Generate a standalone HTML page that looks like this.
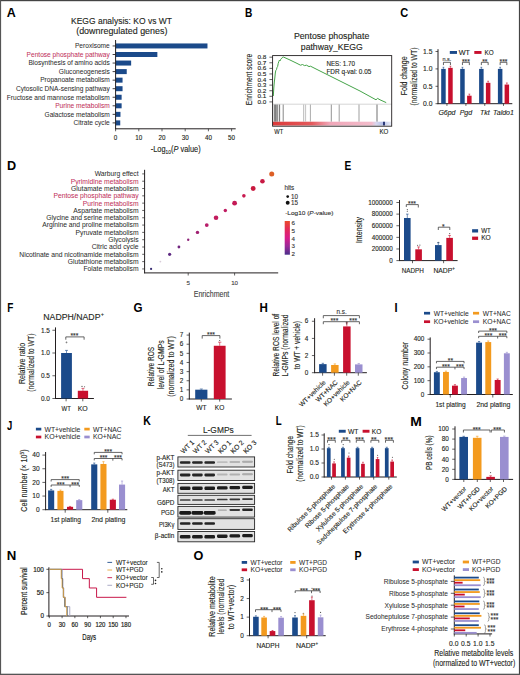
<!DOCTYPE html>
<html><head><meta charset="utf-8"><style>
html,body{margin:0;padding:0;background:#fff;}
svg{display:block;}
text{font-family:"Liberation Sans",sans-serif;}
</style></head><body>
<svg width="520" height="675" viewBox="0 0 520 675">
<rect x="0" y="0" width="520" height="675" fill="#fff"/>
<rect x="0.00" y="0.00" width="520.00" height="1.20" fill="#444"/>
<rect x="0.00" y="0.00" width="1.10" height="675.00" fill="#555"/>
<rect x="518.90" y="0.00" width="1.10" height="675.00" fill="#444"/>
<rect x="0.00" y="673.70" width="520.00" height="1.30" fill="#555"/>
<text x="6.85" y="16.6" font-size="12.2" font-weight="bold" fill="#000" textLength="9.03" lengthAdjust="spacingAndGlyphs">A</text>
<text x="121.5" y="24.3" font-size="8.8" text-anchor="middle" fill="#231f20" stroke="#231f20" stroke-width="0.12" textLength="100.9" lengthAdjust="spacingAndGlyphs">KEGG analysis: KO vs WT</text>
<text x="121.8" y="34.2" font-size="8.8" text-anchor="middle" fill="#231f20" stroke="#231f20" stroke-width="0.12" textLength="91.2" lengthAdjust="spacingAndGlyphs">(downregulated genes)</text>
<rect x="115.60" y="43.45" width="91.87" height="5.00" fill="#1b4a8a"/>
<line x1="112.6" y1="45.95" x2="115.6" y2="45.95" stroke="#231f20" stroke-width="0.85"/>
<text x="109.8" y="48.25" font-size="6.6" text-anchor="end" fill="#2e2e2e" stroke="#2e2e2e" stroke-width="0.04">Peroxisome</text>
<rect x="115.60" y="52.00" width="41.76" height="5.00" fill="#1b4a8a"/>
<line x1="112.6" y1="54.5" x2="115.6" y2="54.5" stroke="#231f20" stroke-width="0.85"/>
<text x="109.8" y="56.8" font-size="6.6" text-anchor="end" fill="#c2325c" stroke="#c2325c" stroke-width="0.04">Pentose phosphate pathway</text>
<rect x="115.60" y="60.55" width="15.54" height="5.00" fill="#1b4a8a"/>
<line x1="112.6" y1="63.050000000000004" x2="115.6" y2="63.050000000000004" stroke="#231f20" stroke-width="0.85"/>
<text x="109.8" y="65.35000000000001" font-size="6.6" text-anchor="end" fill="#2e2e2e" stroke="#2e2e2e" stroke-width="0.04">Biosynthesis of amino acids</text>
<rect x="115.60" y="69.10" width="11.14" height="5.00" fill="#1b4a8a"/>
<line x1="112.6" y1="71.60000000000001" x2="115.6" y2="71.60000000000001" stroke="#231f20" stroke-width="0.85"/>
<text x="109.8" y="73.9" font-size="6.6" text-anchor="end" fill="#2e2e2e" stroke="#2e2e2e" stroke-width="0.04">Gluconeogenesis</text>
<rect x="115.60" y="77.65" width="6.96" height="5.00" fill="#1b4a8a"/>
<line x1="112.6" y1="80.15" x2="115.6" y2="80.15" stroke="#231f20" stroke-width="0.85"/>
<text x="109.8" y="82.45" font-size="6.6" text-anchor="end" fill="#2e2e2e" stroke="#2e2e2e" stroke-width="0.04">Propanoate metabolism</text>
<rect x="115.60" y="86.20" width="6.96" height="5.00" fill="#1b4a8a"/>
<line x1="112.6" y1="88.7" x2="115.6" y2="88.7" stroke="#231f20" stroke-width="0.85"/>
<text x="109.8" y="91.0" font-size="6.6" text-anchor="end" fill="#2e2e2e" stroke="#2e2e2e" stroke-width="0.04">Cytosolic DNA-sensing pathway</text>
<rect x="115.60" y="94.75" width="6.03" height="5.00" fill="#1b4a8a"/>
<line x1="112.6" y1="97.25" x2="115.6" y2="97.25" stroke="#231f20" stroke-width="0.85"/>
<text x="109.8" y="99.55" font-size="6.6" text-anchor="end" fill="#2e2e2e" stroke="#2e2e2e" stroke-width="0.04">Fructose and mannose metabolism</text>
<rect x="115.60" y="103.30" width="6.03" height="5.00" fill="#1b4a8a"/>
<line x1="112.6" y1="105.80000000000001" x2="115.6" y2="105.80000000000001" stroke="#231f20" stroke-width="0.85"/>
<text x="109.8" y="108.10000000000001" font-size="6.6" text-anchor="end" fill="#c2325c" stroke="#c2325c" stroke-width="0.04">Purine metabolism</text>
<rect x="115.60" y="111.85" width="4.87" height="5.00" fill="#1b4a8a"/>
<line x1="112.6" y1="114.35000000000001" x2="115.6" y2="114.35000000000001" stroke="#231f20" stroke-width="0.85"/>
<text x="109.8" y="116.65" font-size="6.6" text-anchor="end" fill="#2e2e2e" stroke="#2e2e2e" stroke-width="0.04">Galactose metabolism</text>
<rect x="115.60" y="120.40" width="4.64" height="5.00" fill="#1b4a8a"/>
<line x1="112.6" y1="122.9" x2="115.6" y2="122.9" stroke="#231f20" stroke-width="0.85"/>
<text x="109.8" y="125.2" font-size="6.6" text-anchor="end" fill="#2e2e2e" stroke="#2e2e2e" stroke-width="0.04">Citrate cycle</text>
<line x1="115.6" y1="40.0" x2="115.6" y2="129.2" stroke="#231f20" stroke-width="1.0"/>
<line x1="115.14999999999999" y1="128.8" x2="235.7" y2="128.8" stroke="#231f20" stroke-width="1.0"/>
<line x1="115.6" y1="128.8" x2="115.6" y2="131.3" stroke="#231f20" stroke-width="0.7"/>
<text x="115.6" y="139.8" font-size="6.3" text-anchor="middle" fill="#231f20" stroke="#231f20" stroke-width="0.12">0</text>
<line x1="138.79999999999998" y1="128.8" x2="138.79999999999998" y2="131.3" stroke="#231f20" stroke-width="0.7"/>
<text x="138.79999999999998" y="139.8" font-size="6.3" text-anchor="middle" fill="#231f20" stroke="#231f20" stroke-width="0.12">10</text>
<line x1="162.0" y1="128.8" x2="162.0" y2="131.3" stroke="#231f20" stroke-width="0.7"/>
<text x="162.0" y="139.8" font-size="6.3" text-anchor="middle" fill="#231f20" stroke="#231f20" stroke-width="0.12">20</text>
<line x1="185.2" y1="128.8" x2="185.2" y2="131.3" stroke="#231f20" stroke-width="0.7"/>
<text x="185.2" y="139.8" font-size="6.3" text-anchor="middle" fill="#231f20" stroke="#231f20" stroke-width="0.12">30</text>
<line x1="208.39999999999998" y1="128.8" x2="208.39999999999998" y2="131.3" stroke="#231f20" stroke-width="0.7"/>
<text x="208.39999999999998" y="139.8" font-size="6.3" text-anchor="middle" fill="#231f20" stroke="#231f20" stroke-width="0.12">40</text>
<line x1="231.6" y1="128.8" x2="231.6" y2="131.3" stroke="#231f20" stroke-width="0.7"/>
<text x="231.6" y="139.8" font-size="6.3" text-anchor="middle" fill="#231f20" stroke="#231f20" stroke-width="0.12">50</text>
<text x="175.7" y="152.0" font-size="8.6" text-anchor="middle" fill="#231f20" stroke="#231f20" stroke-width="0.12" textLength="49.9" lengthAdjust="spacingAndGlyphs">-Log<tspan font-size="5.6" dy="1.6">10</tspan><tspan dy="-1.6">(</tspan><tspan font-style="italic">P</tspan> value)</text>
<text x="244.98" y="16.8" font-size="12.2" font-weight="bold" fill="#000" textLength="7.33" lengthAdjust="spacingAndGlyphs">B</text>
<text x="331.6" y="39.2" font-size="8.5" text-anchor="middle" fill="#231f20" stroke="#231f20" stroke-width="0.12" textLength="75.4" lengthAdjust="spacingAndGlyphs">Pentose phosphate</text>
<text x="331.8" y="49.8" font-size="8.5" text-anchor="middle" fill="#231f20" stroke="#231f20" stroke-width="0.12" textLength="61.9" lengthAdjust="spacingAndGlyphs">pathway_KEGG</text>
<line x1="269.4" y1="101.9" x2="272.6" y2="101.9" stroke="#231f20" stroke-width="0.7"/>
<text x="266.3" y="103.9" font-size="5.9" text-anchor="end" fill="#231f20" stroke="#231f20" stroke-width="0.12" textLength="8.9" lengthAdjust="spacingAndGlyphs">0.0</text>
<line x1="269.4" y1="96.31" x2="272.6" y2="96.31" stroke="#231f20" stroke-width="0.7"/>
<text x="266.3" y="98.31" font-size="5.9" text-anchor="end" fill="#231f20" stroke="#231f20" stroke-width="0.12" textLength="8.9" lengthAdjust="spacingAndGlyphs">0.1</text>
<line x1="269.4" y1="90.72" x2="272.6" y2="90.72" stroke="#231f20" stroke-width="0.7"/>
<text x="266.3" y="92.72" font-size="5.9" text-anchor="end" fill="#231f20" stroke="#231f20" stroke-width="0.12" textLength="8.9" lengthAdjust="spacingAndGlyphs">0.2</text>
<line x1="269.4" y1="85.13000000000001" x2="272.6" y2="85.13000000000001" stroke="#231f20" stroke-width="0.7"/>
<text x="266.3" y="87.13000000000001" font-size="5.9" text-anchor="end" fill="#231f20" stroke="#231f20" stroke-width="0.12" textLength="8.9" lengthAdjust="spacingAndGlyphs">0.3</text>
<line x1="269.4" y1="79.54" x2="272.6" y2="79.54" stroke="#231f20" stroke-width="0.7"/>
<text x="266.3" y="81.54" font-size="5.9" text-anchor="end" fill="#231f20" stroke="#231f20" stroke-width="0.12" textLength="8.9" lengthAdjust="spacingAndGlyphs">0.4</text>
<line x1="269.4" y1="73.95" x2="272.6" y2="73.95" stroke="#231f20" stroke-width="0.7"/>
<text x="266.3" y="75.95" font-size="5.9" text-anchor="end" fill="#231f20" stroke="#231f20" stroke-width="0.12" textLength="8.9" lengthAdjust="spacingAndGlyphs">0.5</text>
<line x1="269.4" y1="68.36000000000001" x2="272.6" y2="68.36000000000001" stroke="#231f20" stroke-width="0.7"/>
<text x="266.3" y="70.36000000000001" font-size="5.9" text-anchor="end" fill="#231f20" stroke="#231f20" stroke-width="0.12" textLength="8.9" lengthAdjust="spacingAndGlyphs">0.6</text>
<line x1="269.4" y1="62.77" x2="272.6" y2="62.77" stroke="#231f20" stroke-width="0.7"/>
<text x="266.3" y="64.77000000000001" font-size="5.9" text-anchor="end" fill="#231f20" stroke="#231f20" stroke-width="0.12" textLength="8.9" lengthAdjust="spacingAndGlyphs">0.7</text>
<line x1="269.4" y1="57.18000000000001" x2="272.6" y2="57.18000000000001" stroke="#231f20" stroke-width="0.7"/>
<text x="266.3" y="59.18000000000001" font-size="5.9" text-anchor="end" fill="#231f20" stroke="#231f20" stroke-width="0.12" textLength="8.9" lengthAdjust="spacingAndGlyphs">0.8</text>
<text transform="translate(251.9,79.5) rotate(-90)" x="0" y="0" font-size="9.0" text-anchor="middle" fill="#231f20" stroke="#231f20" stroke-width="0.12" textLength="51.5" lengthAdjust="spacingAndGlyphs">Enrichment score</text>
<line x1="272.6" y1="104.2" x2="391.7" y2="104.2" stroke="#bbbbbb" stroke-width="0.6"/>
<defs><linearGradient id="gb" x1="0" x2="1" y1="0" y2="0"><stop offset="0" stop-color="#dc3a3a"/><stop offset="0.33" stop-color="#e45a5c"/><stop offset="0.48" stop-color="#f0a6b8"/><stop offset="0.83" stop-color="#f3bccb"/><stop offset="0.87" stop-color="#d8d8ef"/><stop offset="0.925" stop-color="#b2bfe6"/><stop offset="0.927" stop-color="#2b3a78"/><stop offset="0.943" stop-color="#2b3a78"/><stop offset="0.946" stop-color="#c8d0ec"/><stop offset="1" stop-color="#eceff8"/></linearGradient></defs>
<rect x="272.60" y="121.70" width="119.10" height="3.80" fill="url(#gb)"/>
<line x1="274.3" y1="104.6" x2="274.3" y2="121.6" stroke="#333" stroke-width="0.7"/>
<line x1="275.4" y1="104.6" x2="275.4" y2="121.6" stroke="#555" stroke-width="0.7"/>
<line x1="276.2" y1="104.6" x2="276.2" y2="121.6" stroke="#333" stroke-width="0.7"/>
<line x1="277.7" y1="104.6" x2="277.7" y2="121.6" stroke="#444" stroke-width="0.7"/>
<line x1="279.6" y1="104.6" x2="279.6" y2="121.6" stroke="#333" stroke-width="0.7"/>
<line x1="283.2" y1="104.6" x2="283.2" y2="121.6" stroke="#555" stroke-width="0.7"/>
<line x1="303.7" y1="104.6" x2="303.7" y2="121.6" stroke="#999" stroke-width="0.7"/>
<line x1="305.6" y1="104.6" x2="305.6" y2="121.6" stroke="#aaa" stroke-width="0.7"/>
<line x1="310.4" y1="104.6" x2="310.4" y2="121.6" stroke="#888" stroke-width="0.7"/>
<line x1="331.3" y1="104.6" x2="331.3" y2="121.6" stroke="#666" stroke-width="0.7"/>
<line x1="339.2" y1="104.6" x2="339.2" y2="121.6" stroke="#777" stroke-width="0.7"/>
<line x1="359.0" y1="104.6" x2="359.0" y2="121.6" stroke="#777" stroke-width="0.7"/>
<line x1="377.0" y1="104.6" x2="377.0" y2="121.6" stroke="#333" stroke-width="0.7"/>
<path d="M273.3,96.0 L273.8,88 L274.3,82 L274.8,78 L275.3,73 L275.8,70.5 L276.5,69.5 L277.0,67.5 L277.6,66.5 L278.2,63.5 L278.8,61.5 L279.4,60.2 L280.0,61.0 L280.6,59.5 L281.3,58.6 L282.0,58.2 L282.6,57.2 L283.4,57.0 L290,60.0 L297,63.4 L300.5,65.2 L302.5,64.5 L304.5,65.6 L306.5,65.2 L309.0,66.6 L310.5,66.2 L320,71.0 L340,81.0 L360,91.0 L376.0,99.8 L377.6,98.4 L380,99.8 L386.2,102.6" stroke="#3a9e3e" stroke-width="0.95" fill="none" stroke-linejoin="round"/>
<rect x="272.6" y="55.6" width="119.09999999999997" height="70.6" fill="none" stroke="#231f20" stroke-width="0.9"/>
<text x="326.4" y="66.0" font-size="6.6" fill="#231f20" stroke="#231f20" stroke-width="0.12" textLength="28.6" lengthAdjust="spacingAndGlyphs">NES: 1.70</text>
<text x="326.4" y="73.9" font-size="6.6" fill="#231f20" stroke="#231f20" stroke-width="0.12" textLength="45.0" lengthAdjust="spacingAndGlyphs">FDR q-val: 0.05</text>
<text x="274.3" y="134.0" font-size="6.6" fill="#231f20" stroke="#231f20" stroke-width="0.12" textLength="8.9" lengthAdjust="spacingAndGlyphs">WT</text>
<text x="379.4" y="134.0" font-size="6.6" fill="#231f20" stroke="#231f20" stroke-width="0.12" textLength="8.9" lengthAdjust="spacingAndGlyphs">KO</text>
<text x="400.2" y="16.5" font-size="12.2" font-weight="bold" fill="#000" textLength="7.95" lengthAdjust="spacingAndGlyphs">C</text>
<line x1="438.0" y1="49.2" x2="438.0" y2="104.10000000000001" stroke="#231f20" stroke-width="1.0"/>
<line x1="437.55" y1="103.7" x2="512.3" y2="103.7" stroke="#231f20" stroke-width="1.0"/>
<line x1="435.5" y1="51.50000000000001" x2="438.0" y2="51.50000000000001" stroke="#231f20" stroke-width="0.7"/>
<text x="432.4" y="53.800000000000004" font-size="6.6" text-anchor="end" fill="#231f20" stroke="#231f20" stroke-width="0.12" textLength="9.4" lengthAdjust="spacingAndGlyphs">1.5</text>
<line x1="435.5" y1="68.9" x2="438.0" y2="68.9" stroke="#231f20" stroke-width="0.7"/>
<text x="432.4" y="71.2" font-size="6.6" text-anchor="end" fill="#231f20" stroke="#231f20" stroke-width="0.12" textLength="9.4" lengthAdjust="spacingAndGlyphs">1.0</text>
<line x1="435.5" y1="86.30000000000001" x2="438.0" y2="86.30000000000001" stroke="#231f20" stroke-width="0.7"/>
<text x="432.4" y="88.60000000000001" font-size="6.6" text-anchor="end" fill="#231f20" stroke="#231f20" stroke-width="0.12" textLength="9.4" lengthAdjust="spacingAndGlyphs">0.5</text>
<line x1="435.5" y1="103.7" x2="438.0" y2="103.7" stroke="#231f20" stroke-width="0.7"/>
<text x="432.4" y="106.0" font-size="6.6" text-anchor="end" fill="#231f20" stroke="#231f20" stroke-width="0.12" textLength="9.4" lengthAdjust="spacingAndGlyphs">0.0</text>
<text transform="translate(407.4,75.8) rotate(-90)" x="0" y="0" font-size="8.2" text-anchor="middle" fill="#231f20" stroke="#231f20" stroke-width="0.12" textLength="39.0" lengthAdjust="spacingAndGlyphs">Fold change</text>
<text transform="translate(417.0,76.5) rotate(-90)" x="0" y="0" font-size="8.2" text-anchor="middle" fill="#231f20" stroke="#231f20" stroke-width="0.12" textLength="57.8" lengthAdjust="spacingAndGlyphs">(normalized to WT)</text>
<rect x="441.20" y="68.90" width="4.50" height="34.80" fill="#1b4a8a"/>
<line x1="443.45" y1="68.9" x2="443.45" y2="67.30000000000001" stroke="#1b4a8a" stroke-width="0.6"/>
<line x1="442.55" y1="67.30000000000001" x2="444.34999999999997" y2="67.30000000000001" stroke="#1b4a8a" stroke-width="0.6"/>
<rect x="448.20" y="67.86" width="4.50" height="35.84" fill="#c8102e"/>
<line x1="450.45" y1="67.856" x2="450.45" y2="66.256" stroke="#c8102e" stroke-width="0.6"/>
<line x1="449.55" y1="66.256" x2="451.34999999999997" y2="66.256" stroke="#c8102e" stroke-width="0.6"/>
<line x1="446.95" y1="103.7" x2="446.95" y2="105.9" stroke="#231f20" stroke-width="0.7"/>
<path d="M443.45,65.1 L443.45,62.3 L450.45,62.3 L450.45,65.1" stroke="#333" stroke-width="0.75" fill="none"/>
<text x="446.95" y="61.0" font-size="5.5" text-anchor="middle" fill="#333" stroke="#333" stroke-width="0.12">n.s.</text>
<text x="446.95" y="115.2" font-size="7.0" text-anchor="middle" font-style="italic" fill="#231f20" stroke="#231f20" stroke-width="0.12">G6pd</text>
<rect x="460.20" y="68.90" width="4.50" height="34.80" fill="#1b4a8a"/>
<line x1="462.45" y1="68.9" x2="462.45" y2="67.30000000000001" stroke="#1b4a8a" stroke-width="0.6"/>
<line x1="461.55" y1="67.30000000000001" x2="463.34999999999997" y2="67.30000000000001" stroke="#1b4a8a" stroke-width="0.6"/>
<rect x="467.10" y="95.70" width="4.50" height="8.00" fill="#c8102e"/>
<line x1="469.35" y1="95.696" x2="469.35" y2="94.096" stroke="#c8102e" stroke-width="0.6"/>
<line x1="468.45000000000005" y1="94.096" x2="470.25" y2="94.096" stroke="#c8102e" stroke-width="0.6"/>
<line x1="465.9" y1="103.7" x2="465.9" y2="105.9" stroke="#231f20" stroke-width="0.7"/>
<path d="M462.45,65.1 L462.45,62.3 L469.35,62.3 L469.35,65.1" stroke="#333" stroke-width="0.75" fill="none"/>
<text x="465.9" y="64.1792" font-size="6.6" text-anchor="middle" fill="#333" stroke="#333" stroke-width="0.12" textLength="7.8" lengthAdjust="spacingAndGlyphs">***</text>
<text x="465.9" y="115.2" font-size="7.0" text-anchor="middle" font-style="italic" fill="#231f20" stroke="#231f20" stroke-width="0.12">Pgd</text>
<rect x="479.10" y="68.90" width="4.50" height="34.80" fill="#1b4a8a"/>
<line x1="481.35" y1="68.9" x2="481.35" y2="67.30000000000001" stroke="#1b4a8a" stroke-width="0.6"/>
<line x1="480.45000000000005" y1="67.30000000000001" x2="482.25" y2="67.30000000000001" stroke="#1b4a8a" stroke-width="0.6"/>
<rect x="485.90" y="82.82" width="4.50" height="20.88" fill="#c8102e"/>
<line x1="488.15" y1="82.82000000000001" x2="488.15" y2="81.22000000000001" stroke="#c8102e" stroke-width="0.6"/>
<line x1="487.25" y1="81.22000000000001" x2="489.04999999999995" y2="81.22000000000001" stroke="#c8102e" stroke-width="0.6"/>
<line x1="484.75" y1="103.7" x2="484.75" y2="105.9" stroke="#231f20" stroke-width="0.7"/>
<path d="M481.35,65.1 L481.35,62.3 L488.15,62.3 L488.15,65.1" stroke="#333" stroke-width="0.75" fill="none"/>
<text x="484.75" y="64.1792" font-size="6.6" text-anchor="middle" fill="#333" stroke="#333" stroke-width="0.12" textLength="5.2" lengthAdjust="spacingAndGlyphs">**</text>
<text x="484.75" y="115.2" font-size="7.0" text-anchor="middle" font-style="italic" fill="#231f20" stroke="#231f20" stroke-width="0.12">Tkt</text>
<rect x="497.90" y="68.90" width="4.50" height="34.80" fill="#1b4a8a"/>
<line x1="500.15" y1="68.9" x2="500.15" y2="67.30000000000001" stroke="#1b4a8a" stroke-width="0.6"/>
<line x1="499.25" y1="67.30000000000001" x2="501.04999999999995" y2="67.30000000000001" stroke="#1b4a8a" stroke-width="0.6"/>
<rect x="504.60" y="84.56" width="4.50" height="19.14" fill="#c8102e"/>
<line x1="506.85" y1="84.56" x2="506.85" y2="82.96000000000001" stroke="#c8102e" stroke-width="0.6"/>
<line x1="505.95000000000005" y1="82.96000000000001" x2="507.75" y2="82.96000000000001" stroke="#c8102e" stroke-width="0.6"/>
<line x1="503.5" y1="103.7" x2="503.5" y2="105.9" stroke="#231f20" stroke-width="0.7"/>
<path d="M500.15,65.1 L500.15,62.3 L506.85,62.3 L506.85,65.1" stroke="#333" stroke-width="0.75" fill="none"/>
<text x="503.5" y="64.1792" font-size="6.6" text-anchor="middle" fill="#333" stroke="#333" stroke-width="0.12" textLength="7.8" lengthAdjust="spacingAndGlyphs">***</text>
<text x="503.5" y="115.2" font-size="7.0" text-anchor="middle" font-style="italic" fill="#231f20" stroke="#231f20" stroke-width="0.12">Taldo1</text>
<rect x="449.80" y="51.00" width="7.20" height="2.90" fill="#1b4a8a"/>
<text x="458.7" y="55.0" font-size="7.4" fill="#231f20" stroke="#231f20" stroke-width="0.12" textLength="11.3" lengthAdjust="spacingAndGlyphs">WT</text>
<rect x="474.30" y="51.00" width="7.20" height="2.90" fill="#c8102e"/>
<text x="484.4" y="55.0" font-size="7.4" fill="#231f20" stroke="#231f20" stroke-width="0.12" textLength="9.2" lengthAdjust="spacingAndGlyphs">KO</text>
<text x="6.91" y="169.6" font-size="12.2" font-weight="bold" fill="#000" textLength="9.16" lengthAdjust="spacingAndGlyphs">D</text>
<text x="138.6" y="176.3" font-size="6.75" text-anchor="end" fill="#2e2e2e" stroke="#2e2e2e" stroke-width="0.04">Warburg effect</text>
<line x1="142.2" y1="173.9" x2="144.6" y2="173.9" stroke="#231f20" stroke-width="0.7"/>
<circle cx="271.72" cy="173.90" r="2.5" fill="#dd5f26"/>
<text x="138.6" y="183.61" font-size="6.75" text-anchor="end" fill="#c2325c" stroke="#c2325c" stroke-width="0.04">Pyrimidine metabolism</text>
<line x1="142.2" y1="181.21" x2="144.6" y2="181.21" stroke="#231f20" stroke-width="0.7"/>
<circle cx="262.44" cy="181.21" r="2.3" fill="#c81a44"/>
<text x="138.6" y="190.92000000000002" font-size="6.75" text-anchor="end" fill="#2e2e2e" stroke="#2e2e2e" stroke-width="0.04">Glutamate metabolism</text>
<line x1="142.2" y1="188.52" x2="144.6" y2="188.52" stroke="#231f20" stroke-width="0.7"/>
<circle cx="253.16" cy="188.52" r="2.4" fill="#c8183e"/>
<text x="138.6" y="198.23000000000002" font-size="6.75" text-anchor="end" fill="#c2325c" stroke="#c2325c" stroke-width="0.04">Pentose phosphate pathway</text>
<line x1="142.2" y1="195.83" x2="144.6" y2="195.83" stroke="#231f20" stroke-width="0.7"/>
<circle cx="243.88" cy="195.83" r="1.8" fill="#c81a50"/>
<text x="138.6" y="205.54000000000002" font-size="6.75" text-anchor="end" fill="#c2325c" stroke="#c2325c" stroke-width="0.04">Purine metabolism</text>
<line x1="142.2" y1="203.14000000000001" x2="144.6" y2="203.14000000000001" stroke="#231f20" stroke-width="0.7"/>
<circle cx="234.60" cy="203.14" r="2.4" fill="#c41a56"/>
<text x="138.6" y="212.85" font-size="6.75" text-anchor="end" fill="#2e2e2e" stroke="#2e2e2e" stroke-width="0.04">Aspartate metabolism</text>
<line x1="142.2" y1="210.45" x2="144.6" y2="210.45" stroke="#231f20" stroke-width="0.7"/>
<circle cx="225.32" cy="210.45" r="1.7" fill="#c01c62"/>
<text x="138.6" y="220.16" font-size="6.75" text-anchor="end" fill="#2e2e2e" stroke="#2e2e2e" stroke-width="0.04">Glycine and serine metabolism</text>
<line x1="142.2" y1="217.76" x2="144.6" y2="217.76" stroke="#231f20" stroke-width="0.7"/>
<circle cx="216.04" cy="217.76" r="2.3" fill="#c21c5e"/>
<text x="138.6" y="227.47" font-size="6.75" text-anchor="end" fill="#2e2e2e" stroke="#2e2e2e" stroke-width="0.04">Arginine and proline metabolism</text>
<line x1="142.2" y1="225.07" x2="144.6" y2="225.07" stroke="#231f20" stroke-width="0.7"/>
<circle cx="206.76" cy="225.07" r="1.9" fill="#b81e6a"/>
<text x="138.6" y="234.78" font-size="6.75" text-anchor="end" fill="#2e2e2e" stroke="#2e2e2e" stroke-width="0.04">Pyruvate metabolism</text>
<line x1="142.2" y1="232.38" x2="144.6" y2="232.38" stroke="#231f20" stroke-width="0.7"/>
<circle cx="197.48" cy="232.38" r="1.7" fill="#a02072"/>
<text x="138.6" y="242.09" font-size="6.75" text-anchor="end" fill="#2e2e2e" stroke="#2e2e2e" stroke-width="0.04">Glycolysis</text>
<line x1="142.2" y1="239.69" x2="144.6" y2="239.69" stroke="#231f20" stroke-width="0.7"/>
<circle cx="188.20" cy="239.69" r="1.2" fill="#8e2478"/>
<text x="138.6" y="249.4" font-size="6.75" text-anchor="end" fill="#2e2e2e" stroke="#2e2e2e" stroke-width="0.04">Citric acid cycle</text>
<line x1="142.2" y1="247.0" x2="144.6" y2="247.0" stroke="#231f20" stroke-width="0.7"/>
<circle cx="178.92" cy="247.00" r="1.4" fill="#722680"/>
<text x="138.6" y="256.71" font-size="6.75" text-anchor="end" fill="#2e2e2e" stroke="#2e2e2e" stroke-width="0.04">Nicotinate and nicotinamide metabolism</text>
<line x1="142.2" y1="254.31" x2="144.6" y2="254.31" stroke="#231f20" stroke-width="0.7"/>
<circle cx="169.64" cy="254.31" r="1.6" fill="#5e2a82"/>
<text x="138.6" y="264.02" font-size="6.75" text-anchor="end" fill="#2e2e2e" stroke="#2e2e2e" stroke-width="0.04">Glutathione metabolism</text>
<line x1="142.2" y1="261.62" x2="144.6" y2="261.62" stroke="#231f20" stroke-width="0.7"/>
<circle cx="160.36" cy="261.62" r="0.9" fill="#d8ccd8"/>
<text x="138.6" y="271.33" font-size="6.75" text-anchor="end" fill="#2e2e2e" stroke="#2e2e2e" stroke-width="0.04">Folate metabolism</text>
<line x1="142.2" y1="268.93" x2="144.6" y2="268.93" stroke="#231f20" stroke-width="0.7"/>
<circle cx="151.08" cy="268.93" r="1.1" fill="#342a70"/>
<line x1="144.6" y1="169.8" x2="144.6" y2="273.29999999999995" stroke="#231f20" stroke-width="1.0"/>
<line x1="144.15" y1="272.9" x2="278.2" y2="272.9" stroke="#231f20" stroke-width="1.0"/>
<line x1="188.20000000000002" y1="272.9" x2="188.20000000000002" y2="275.5" stroke="#231f20" stroke-width="0.7"/>
<text x="188.20000000000002" y="284.7" font-size="6.2" text-anchor="middle" fill="#444" stroke="#444" stroke-width="0.12">5</text>
<line x1="234.60000000000002" y1="272.9" x2="234.60000000000002" y2="275.5" stroke="#231f20" stroke-width="0.7"/>
<text x="234.60000000000002" y="284.7" font-size="6.2" text-anchor="middle" fill="#444" stroke="#444" stroke-width="0.12">10</text>
<text x="211.5" y="296.5" font-size="8.9" text-anchor="middle" fill="#444" stroke="#444" stroke-width="0.12" textLength="35.6" lengthAdjust="spacingAndGlyphs">Enrichment</text>
<text x="284.4" y="190.2" font-size="6.3" fill="#333" stroke="#333" stroke-width="0.12">hits</text>
<circle cx="287.70" cy="196.60" r="1.35" fill="#111"/>
<text x="290.9" y="198.8" font-size="6.3" fill="#333" stroke="#333" stroke-width="0.12">10</text>
<circle cx="287.70" cy="202.70" r="1.95" fill="#111"/>
<text x="290.9" y="204.9" font-size="6.3" fill="#333" stroke="#333" stroke-width="0.12">15</text>
<text x="285.2" y="215.1" font-size="6.0" fill="#333" stroke="#333" stroke-width="0.12" textLength="48.3" lengthAdjust="spacingAndGlyphs">-Log10 (<tspan font-style="italic">P</tspan>-value)</text>
<defs><linearGradient id="gd" x1="0" x2="0" y1="0" y2="1"><stop offset="0" stop-color="#ea4a2c"/><stop offset="0.25" stop-color="#e32a5a"/><stop offset="0.5" stop-color="#d81c8a"/><stop offset="0.75" stop-color="#9a2a98"/><stop offset="1" stop-color="#4a2e8a"/></linearGradient></defs>
<rect x="284.70" y="221.00" width="5.20" height="33.70" fill="url(#gd)"/>
<text x="291.4" y="225.4" font-size="6.2" fill="#333" stroke="#333" stroke-width="0.12">6</text>
<text x="291.4" y="232.95000000000002" font-size="6.2" fill="#333" stroke="#333" stroke-width="0.12">5</text>
<text x="291.4" y="240.5" font-size="6.2" fill="#333" stroke="#333" stroke-width="0.12">4</text>
<text x="291.4" y="248.05" font-size="6.2" fill="#333" stroke="#333" stroke-width="0.12">3</text>
<text x="291.4" y="255.6" font-size="6.2" fill="#333" stroke="#333" stroke-width="0.12">2</text>
<text x="344.58" y="169.6" font-size="12.2" font-weight="bold" fill="#000" textLength="6.76" lengthAdjust="spacingAndGlyphs">E</text>
<line x1="399.5" y1="200.0" x2="399.5" y2="261.0" stroke="#231f20" stroke-width="1.0"/>
<line x1="399.05" y1="260.6" x2="457.6" y2="260.6" stroke="#231f20" stroke-width="1.0"/>
<line x1="396.4" y1="260.6" x2="399.5" y2="260.6" stroke="#231f20" stroke-width="0.7"/>
<text x="392.8" y="262.90000000000003" font-size="6.4" text-anchor="end" fill="#231f20" stroke="#231f20" stroke-width="0.12" textLength="3.5142857142857147" lengthAdjust="spacingAndGlyphs">0</text>
<line x1="396.4" y1="248.98000000000002" x2="399.5" y2="248.98000000000002" stroke="#231f20" stroke-width="0.7"/>
<text x="392.8" y="251.28000000000003" font-size="6.4" text-anchor="end" fill="#231f20" stroke="#231f20" stroke-width="0.12" textLength="21.08571428571429" lengthAdjust="spacingAndGlyphs">200000</text>
<line x1="396.4" y1="237.36" x2="399.5" y2="237.36" stroke="#231f20" stroke-width="0.7"/>
<text x="392.8" y="239.66000000000003" font-size="6.4" text-anchor="end" fill="#231f20" stroke="#231f20" stroke-width="0.12" textLength="21.08571428571429" lengthAdjust="spacingAndGlyphs">400000</text>
<line x1="396.4" y1="225.74" x2="399.5" y2="225.74" stroke="#231f20" stroke-width="0.7"/>
<text x="392.8" y="228.04000000000002" font-size="6.4" text-anchor="end" fill="#231f20" stroke="#231f20" stroke-width="0.12" textLength="21.08571428571429" lengthAdjust="spacingAndGlyphs">600000</text>
<line x1="396.4" y1="214.12000000000003" x2="399.5" y2="214.12000000000003" stroke="#231f20" stroke-width="0.7"/>
<text x="392.8" y="216.42000000000004" font-size="6.4" text-anchor="end" fill="#231f20" stroke="#231f20" stroke-width="0.12" textLength="21.08571428571429" lengthAdjust="spacingAndGlyphs">800000</text>
<line x1="396.4" y1="202.50000000000003" x2="399.5" y2="202.50000000000003" stroke="#231f20" stroke-width="0.7"/>
<text x="392.8" y="204.80000000000004" font-size="6.4" text-anchor="end" fill="#231f20" stroke="#231f20" stroke-width="0.12" textLength="24.6" lengthAdjust="spacingAndGlyphs">1000000</text>
<text transform="translate(362.1,230.0) rotate(-90)" x="0" y="0" font-size="8.8" text-anchor="middle" fill="#231f20" stroke="#231f20" stroke-width="0.12" textLength="26.2" lengthAdjust="spacingAndGlyphs">Intensity</text>
<rect x="404.00" y="218.01" width="6.60" height="42.59" fill="#1b4a8a"/>
<line x1="407.3" y1="218.01270000000002" x2="407.3" y2="214.11270000000002" stroke="#1b4a8a" stroke-width="0.6"/>
<line x1="406.0" y1="214.11270000000002" x2="408.6" y2="214.11270000000002" stroke="#1b4a8a" stroke-width="0.6"/>
<rect x="415.30" y="249.33" width="6.60" height="11.27" fill="#c8102e"/>
<line x1="418.6" y1="249.32860000000002" x2="418.6" y2="246.92860000000002" stroke="#c8102e" stroke-width="0.6"/>
<line x1="417.3" y1="246.92860000000002" x2="419.90000000000003" y2="246.92860000000002" stroke="#c8102e" stroke-width="0.6"/>
<rect x="435.00" y="245.09" width="6.60" height="15.51" fill="#1b4a8a"/>
<line x1="438.3" y1="245.08730000000003" x2="438.3" y2="242.68730000000002" stroke="#1b4a8a" stroke-width="0.6"/>
<line x1="437.0" y1="242.68730000000002" x2="439.6" y2="242.68730000000002" stroke="#1b4a8a" stroke-width="0.6"/>
<rect x="446.30" y="237.88" width="6.60" height="22.72" fill="#c8102e"/>
<line x1="449.6" y1="237.88290000000003" x2="449.6" y2="235.48290000000003" stroke="#c8102e" stroke-width="0.6"/>
<line x1="448.3" y1="235.48290000000003" x2="450.90000000000003" y2="235.48290000000003" stroke="#c8102e" stroke-width="0.6"/>
<line x1="412.5" y1="260.6" x2="412.5" y2="263.20000000000005" stroke="#231f20" stroke-width="0.7"/>
<line x1="443.6" y1="260.6" x2="443.6" y2="263.20000000000005" stroke="#231f20" stroke-width="0.7"/>
<path d="M406.3,207.0 L406.3,204.6 L418.3,204.6 L418.3,207.5" stroke="#333" stroke-width="0.75" fill="none"/>
<text x="412.0" y="206.3792" font-size="6.6" text-anchor="middle" fill="#333" stroke="#333" stroke-width="0.12" textLength="7.8" lengthAdjust="spacingAndGlyphs">***</text>
<path d="M438.3,230.0 L438.3,227.2 L449.8,227.2 L449.8,230.0" stroke="#333" stroke-width="0.75" fill="none"/>
<text x="443.2" y="228.9792" font-size="6.6" text-anchor="middle" fill="#333" stroke="#333" stroke-width="0.12" textLength="2.6" lengthAdjust="spacingAndGlyphs">*</text>
<text x="412.8" y="272.8" font-size="6.8" text-anchor="middle" fill="#231f20" stroke="#231f20" stroke-width="0.12" textLength="22.2" lengthAdjust="spacingAndGlyphs">NADPH</text>
<text x="433.4" y="272.8" font-size="6.8" fill="#231f20" stroke="#231f20" stroke-width="0.12">NADP<tspan font-size="4.5" dy="-3">+</tspan></text>
<rect x="472.10" y="229.20" width="6.00" height="3.30" fill="#1b4a8a"/>
<text x="481.2" y="232.8" font-size="6.8" fill="#231f20" stroke="#231f20" stroke-width="0.12" textLength="9.6" lengthAdjust="spacingAndGlyphs">WT</text>
<rect x="472.10" y="236.60" width="6.00" height="3.30" fill="#c8102e"/>
<text x="481.2" y="240.3" font-size="6.8" fill="#231f20" stroke="#231f20" stroke-width="0.12" textLength="9.6" lengthAdjust="spacingAndGlyphs">KO</text>
<text x="7.29" y="311.6" font-size="12.2" font-weight="bold" fill="#000" textLength="6.12" lengthAdjust="spacingAndGlyphs">F</text>
<text x="43.3" y="319.9" font-size="8.7" fill="#231f20" stroke="#231f20" stroke-width="0.12" textLength="57.2" lengthAdjust="spacingAndGlyphs">NADPH/NADP</text>
<text x="100.8" y="316.4" font-size="5.6" fill="#231f20" stroke="#231f20" stroke-width="0.12">+</text>
<text transform="translate(25.0,363.4) rotate(-90)" x="0" y="0" font-size="8.6" text-anchor="middle" fill="#231f20" stroke="#231f20" stroke-width="0.12" textLength="41.4" lengthAdjust="spacingAndGlyphs">Relative ratio</text>
<text transform="translate(34.4,362.7) rotate(-90)" x="0" y="0" font-size="8.6" text-anchor="middle" fill="#231f20" stroke="#231f20" stroke-width="0.12" textLength="58.3" lengthAdjust="spacingAndGlyphs">(normalized to WT)</text>
<line x1="55.5" y1="327.4" x2="55.5" y2="398.9" stroke="#231f20" stroke-width="1.0"/>
<line x1="55.05" y1="398.5" x2="93.9" y2="398.5" stroke="#231f20" stroke-width="1.0"/>
<line x1="52.4" y1="330.25" x2="55.5" y2="330.25" stroke="#231f20" stroke-width="0.7"/>
<text x="49.9" y="332.55" font-size="6.6" text-anchor="end" fill="#231f20" stroke="#231f20" stroke-width="0.12" textLength="9.0" lengthAdjust="spacingAndGlyphs">1.5</text>
<line x1="52.4" y1="353.0" x2="55.5" y2="353.0" stroke="#231f20" stroke-width="0.7"/>
<text x="49.9" y="355.3" font-size="6.6" text-anchor="end" fill="#231f20" stroke="#231f20" stroke-width="0.12" textLength="9.0" lengthAdjust="spacingAndGlyphs">1.0</text>
<line x1="52.4" y1="375.75" x2="55.5" y2="375.75" stroke="#231f20" stroke-width="0.7"/>
<text x="49.9" y="378.05" font-size="6.6" text-anchor="end" fill="#231f20" stroke="#231f20" stroke-width="0.12" textLength="9.0" lengthAdjust="spacingAndGlyphs">0.5</text>
<line x1="52.4" y1="398.5" x2="55.5" y2="398.5" stroke="#231f20" stroke-width="0.7"/>
<text x="49.9" y="400.8" font-size="6.6" text-anchor="end" fill="#231f20" stroke="#231f20" stroke-width="0.12" textLength="9.0" lengthAdjust="spacingAndGlyphs">0.0</text>
<rect x="61.10" y="353.00" width="10.80" height="45.50" fill="#1b4a8a"/>
<line x1="66.5" y1="353.0" x2="66.5" y2="350.4" stroke="#1b4a8a" stroke-width="0.6"/>
<line x1="65.0" y1="350.4" x2="68.0" y2="350.4" stroke="#1b4a8a" stroke-width="0.6"/>
<line x1="66.5" y1="341.4" x2="66.5" y2="343.4" stroke="#555" stroke-width="0.5"/>
<line x1="65.5" y1="342.4" x2="67.5" y2="342.4" stroke="#555" stroke-width="0.5"/>
<rect x="77.80" y="390.76" width="10.30" height="7.74" fill="#c8102e"/>
<line x1="82.95" y1="390.765" x2="82.95" y2="388.365" stroke="#c8102e" stroke-width="0.6"/>
<line x1="81.45" y1="388.365" x2="84.45" y2="388.365" stroke="#c8102e" stroke-width="0.6"/>
<line x1="66.1" y1="398.5" x2="66.1" y2="401.3" stroke="#231f20" stroke-width="0.7"/>
<line x1="82.8" y1="398.5" x2="82.8" y2="401.3" stroke="#231f20" stroke-width="0.7"/>
<path d="M65.8,339.7 L65.8,336.9 L84.1,336.9 L84.1,339.7" stroke="#333" stroke-width="0.75" fill="none"/>
<text x="74.4" y="338.3792" font-size="6.6" text-anchor="middle" fill="#333" stroke="#333" stroke-width="0.12" textLength="7.8" lengthAdjust="spacingAndGlyphs">***</text>
<text x="66.2" y="410.8" font-size="6.8" text-anchor="middle" fill="#231f20" stroke="#231f20" stroke-width="0.12" textLength="9.3" lengthAdjust="spacingAndGlyphs">WT</text>
<text x="82.7" y="410.8" font-size="6.8" text-anchor="middle" fill="#231f20" stroke="#231f20" stroke-width="0.12" textLength="10.0" lengthAdjust="spacingAndGlyphs">KO</text>
<text x="133.58" y="311.6" font-size="12.2" font-weight="bold" fill="#000" textLength="8.99" lengthAdjust="spacingAndGlyphs">G</text>
<line x1="189.3" y1="332.6" x2="189.3" y2="399.4" stroke="#231f20" stroke-width="1.0"/>
<line x1="188.85000000000002" y1="399.0" x2="231.9" y2="399.0" stroke="#231f20" stroke-width="1.0"/>
<line x1="186.6" y1="399.0" x2="189.3" y2="399.0" stroke="#231f20" stroke-width="0.7"/>
<text x="183.3" y="401.2" font-size="6.4" text-anchor="end" fill="#231f20" stroke="#231f20" stroke-width="0.12">0</text>
<line x1="186.6" y1="389.87" x2="189.3" y2="389.87" stroke="#231f20" stroke-width="0.7"/>
<text x="183.3" y="392.07" font-size="6.4" text-anchor="end" fill="#231f20" stroke="#231f20" stroke-width="0.12">1</text>
<line x1="186.6" y1="380.74" x2="189.3" y2="380.74" stroke="#231f20" stroke-width="0.7"/>
<text x="183.3" y="382.94" font-size="6.4" text-anchor="end" fill="#231f20" stroke="#231f20" stroke-width="0.12">2</text>
<line x1="186.6" y1="371.61" x2="189.3" y2="371.61" stroke="#231f20" stroke-width="0.7"/>
<text x="183.3" y="373.81" font-size="6.4" text-anchor="end" fill="#231f20" stroke="#231f20" stroke-width="0.12">3</text>
<line x1="186.6" y1="362.48" x2="189.3" y2="362.48" stroke="#231f20" stroke-width="0.7"/>
<text x="183.3" y="364.68" font-size="6.4" text-anchor="end" fill="#231f20" stroke="#231f20" stroke-width="0.12">4</text>
<line x1="186.6" y1="353.35" x2="189.3" y2="353.35" stroke="#231f20" stroke-width="0.7"/>
<text x="183.3" y="355.55" font-size="6.4" text-anchor="end" fill="#231f20" stroke="#231f20" stroke-width="0.12">5</text>
<line x1="186.6" y1="344.22" x2="189.3" y2="344.22" stroke="#231f20" stroke-width="0.7"/>
<text x="183.3" y="346.42" font-size="6.4" text-anchor="end" fill="#231f20" stroke="#231f20" stroke-width="0.12">6</text>
<line x1="186.6" y1="335.09" x2="189.3" y2="335.09" stroke="#231f20" stroke-width="0.7"/>
<text x="183.3" y="337.28999999999996" font-size="6.4" text-anchor="end" fill="#231f20" stroke="#231f20" stroke-width="0.12">7</text>
<text transform="translate(153.6,366.6) rotate(-90)" x="0" y="0" font-size="8.6" text-anchor="middle" fill="#231f20" stroke="#231f20" stroke-width="0.12" textLength="39.4" lengthAdjust="spacingAndGlyphs">Relative ROS</text>
<text transform="translate(164.0,364.8) rotate(-90)" x="0" y="0" font-size="8.6" text-anchor="middle" fill="#231f20" stroke="#231f20" stroke-width="0.12" textLength="48.9" lengthAdjust="spacingAndGlyphs">level of L-GMPs</text>
<text transform="translate(173.6,366.5) rotate(-90)" x="0" y="0" font-size="8.6" text-anchor="middle" fill="#231f20" stroke="#231f20" stroke-width="0.12" textLength="60.5" lengthAdjust="spacingAndGlyphs">(normalized to WT)</text>
<rect x="195.20" y="389.69" width="12.20" height="9.31" fill="#1b4a8a"/>
<line x1="201.3" y1="389.6874" x2="201.3" y2="388.98740000000004" stroke="#1b4a8a" stroke-width="0.6"/>
<line x1="199.8" y1="388.98740000000004" x2="202.8" y2="388.98740000000004" stroke="#1b4a8a" stroke-width="0.6"/>
<rect x="213.80" y="345.77" width="11.80" height="53.23" fill="#c8102e"/>
<line x1="219.7" y1="345.7721" x2="219.7" y2="342.1721" stroke="#c8102e" stroke-width="0.6"/>
<line x1="218.0" y1="342.1721" x2="221.39999999999998" y2="342.1721" stroke="#c8102e" stroke-width="0.6"/>
<line x1="201.3" y1="399.0" x2="201.3" y2="401.6" stroke="#231f20" stroke-width="0.7"/>
<line x1="219.7" y1="399.0" x2="219.7" y2="401.6" stroke="#231f20" stroke-width="0.7"/>
<path d="M202.2,338.6 L202.2,335.6 L219.9,335.6 L219.9,338.6" stroke="#333" stroke-width="0.75" fill="none"/>
<text x="211.0" y="336.9792" font-size="6.6" text-anchor="middle" fill="#333" stroke="#333" stroke-width="0.12" textLength="7.8" lengthAdjust="spacingAndGlyphs">***</text>
<text x="201.3" y="410.0" font-size="6.8" text-anchor="middle" fill="#231f20" stroke="#231f20" stroke-width="0.12" textLength="10.3" lengthAdjust="spacingAndGlyphs">WT</text>
<text x="219.6" y="410.0" font-size="6.8" text-anchor="middle" fill="#231f20" stroke="#231f20" stroke-width="0.12" textLength="9.5" lengthAdjust="spacingAndGlyphs">KO</text>
<text x="259.39" y="311.7" font-size="12.2" font-weight="bold" fill="#000" textLength="8.34" lengthAdjust="spacingAndGlyphs">H</text>
<line x1="314.6" y1="318.2" x2="314.6" y2="373.09999999999997" stroke="#231f20" stroke-width="1.0"/>
<line x1="314.15000000000003" y1="372.7" x2="366.9" y2="372.7" stroke="#231f20" stroke-width="1.0"/>
<line x1="311.9" y1="372.7" x2="314.6" y2="372.7" stroke="#231f20" stroke-width="0.7"/>
<text x="308.4" y="374.9" font-size="6.4" text-anchor="end" fill="#231f20" stroke="#231f20" stroke-width="0.12">0</text>
<line x1="311.9" y1="355.56" x2="314.6" y2="355.56" stroke="#231f20" stroke-width="0.7"/>
<text x="308.4" y="357.76" font-size="6.4" text-anchor="end" fill="#231f20" stroke="#231f20" stroke-width="0.12">2</text>
<line x1="311.9" y1="338.41999999999996" x2="314.6" y2="338.41999999999996" stroke="#231f20" stroke-width="0.7"/>
<text x="308.4" y="340.61999999999995" font-size="6.4" text-anchor="end" fill="#231f20" stroke="#231f20" stroke-width="0.12">4</text>
<line x1="311.9" y1="321.28" x2="314.6" y2="321.28" stroke="#231f20" stroke-width="0.7"/>
<text x="308.4" y="323.47999999999996" font-size="6.4" text-anchor="end" fill="#231f20" stroke="#231f20" stroke-width="0.12">6</text>
<text transform="translate(278.8,345.2) rotate(-90)" x="0" y="0" font-size="8.6" text-anchor="middle" fill="#231f20" stroke="#231f20" stroke-width="0.12" textLength="62.7" lengthAdjust="spacingAndGlyphs">Relative ROS level of</text>
<text transform="translate(288.1,345.5) rotate(-90)" x="0" y="0" font-size="8.6" text-anchor="middle" fill="#231f20" stroke="#231f20" stroke-width="0.12" textLength="62.1" lengthAdjust="spacingAndGlyphs">L-GMPs (normalized</text>
<text transform="translate(299.6,345.2) rotate(-90)" x="0" y="0" font-size="8.6" text-anchor="middle" fill="#231f20" stroke="#231f20" stroke-width="0.12" textLength="48.1" lengthAdjust="spacingAndGlyphs">to WT + vehicle)</text>
<rect x="319.10" y="364.13" width="7.50" height="8.57" fill="#1b4a8a"/>
<line x1="322.85" y1="364.13" x2="322.85" y2="363.3015" stroke="#1b4a8a" stroke-width="0.6"/>
<line x1="321.65000000000003" y1="363.3015" x2="324.05" y2="363.3015" stroke="#1b4a8a" stroke-width="0.6"/>
<rect x="331.10" y="364.99" width="7.50" height="7.71" fill="#f39a1e"/>
<line x1="334.85" y1="364.98699999999997" x2="334.85" y2="363.90139999999997" stroke="#f39a1e" stroke-width="0.6"/>
<line x1="333.65000000000003" y1="363.90139999999997" x2="336.05" y2="363.90139999999997" stroke="#f39a1e" stroke-width="0.6"/>
<rect x="343.10" y="326.42" width="7.50" height="46.28" fill="#c8102e"/>
<line x1="346.85" y1="326.42199999999997" x2="346.85" y2="322.76539999999994" stroke="#c8102e" stroke-width="0.6"/>
<line x1="345.65000000000003" y1="322.76539999999994" x2="348.05" y2="322.76539999999994" stroke="#c8102e" stroke-width="0.6"/>
<rect x="355.00" y="364.39" width="7.50" height="8.31" fill="#9a8fd0"/>
<line x1="358.75" y1="364.3871" x2="358.75" y2="363.4729" stroke="#9a8fd0" stroke-width="0.6"/>
<line x1="357.55" y1="363.4729" x2="359.95" y2="363.4729" stroke="#9a8fd0" stroke-width="0.6"/>
<line x1="322.6" y1="372.7" x2="322.6" y2="375.7" stroke="#231f20" stroke-width="0.7"/>
<line x1="334.4" y1="372.7" x2="334.4" y2="375.7" stroke="#231f20" stroke-width="0.7"/>
<line x1="346.7" y1="372.7" x2="346.7" y2="375.7" stroke="#231f20" stroke-width="0.7"/>
<line x1="358.3" y1="372.7" x2="358.3" y2="375.7" stroke="#231f20" stroke-width="0.7"/>
<path d="M323.3,318.3 L323.3,315.6 L359.4,315.6 L359.4,318.3" stroke="#333" stroke-width="0.75" fill="none"/>
<text x="341.7" y="314.1" font-size="6.4" text-anchor="middle" fill="#333" stroke="#333" stroke-width="0.12">n.s.</text>
<path d="M323.3,324.2 L323.3,321.7 L359.4,321.7 L359.4,324.2 M346.7,321.7 L346.7,324.6" stroke="#333" stroke-width="0.75" fill="none"/>
<text x="334.4" y="322.8792" font-size="6.6" text-anchor="middle" fill="#333" stroke="#333" stroke-width="0.12" textLength="7.8" lengthAdjust="spacingAndGlyphs">***</text>
<text x="353.2" y="322.8792" font-size="6.6" text-anchor="middle" fill="#333" stroke="#333" stroke-width="0.12" textLength="7.8" lengthAdjust="spacingAndGlyphs">***</text>
<text transform="translate(326.15000000000003,382.8) rotate(-45)" x="0" y="0" font-size="6.6" text-anchor="end" fill="#231f20" stroke="#231f20" stroke-width="0.12">WT+vehicle</text>
<text transform="translate(338.15000000000003,382.8) rotate(-45)" x="0" y="0" font-size="6.6" text-anchor="end" fill="#231f20" stroke="#231f20" stroke-width="0.12">WT+NAC</text>
<text transform="translate(350.15000000000003,382.8) rotate(-45)" x="0" y="0" font-size="6.6" text-anchor="end" fill="#231f20" stroke="#231f20" stroke-width="0.12">KO+vehicle</text>
<text transform="translate(362.05,382.8) rotate(-45)" x="0" y="0" font-size="6.6" text-anchor="end" fill="#231f20" stroke="#231f20" stroke-width="0.12">KO+NAC</text>
<text x="394.42" y="311.7" font-size="12.2" font-weight="bold" fill="#000" textLength="3.07" lengthAdjust="spacingAndGlyphs">I</text>
<rect x="424.00" y="311.85" width="6.10" height="2.70" fill="#1b4a8a"/>
<text x="433.70000000000005" y="315.65" font-size="7.0" fill="#2e2e2e" stroke="#2e2e2e" stroke-width="0.06" textLength="34.9" lengthAdjust="spacingAndGlyphs">WT+vehicle</text>
<rect x="473.00" y="311.85" width="6.10" height="2.70" fill="#f39a1e"/>
<text x="482.70000000000005" y="315.65" font-size="7.0" fill="#2e2e2e" stroke="#2e2e2e" stroke-width="0.06" textLength="28.1" lengthAdjust="spacingAndGlyphs">WT+NAC</text>
<rect x="424.00" y="320.35" width="6.10" height="2.70" fill="#c8102e"/>
<text x="433.70000000000005" y="324.15" font-size="7.0" fill="#2e2e2e" stroke="#2e2e2e" stroke-width="0.06" textLength="34.9" lengthAdjust="spacingAndGlyphs">KO+vehicle</text>
<rect x="473.00" y="320.35" width="6.10" height="2.70" fill="#9a8fd0"/>
<text x="482.70000000000005" y="324.15" font-size="7.0" fill="#2e2e2e" stroke="#2e2e2e" stroke-width="0.06" textLength="28.1" lengthAdjust="spacingAndGlyphs">KO+NAC</text>
<line x1="430.2" y1="337.4" x2="430.2" y2="394.9" stroke="#231f20" stroke-width="1.0"/>
<line x1="429.75" y1="394.5" x2="512.8" y2="394.5" stroke="#231f20" stroke-width="1.0"/>
<line x1="427.5" y1="394.5" x2="430.2" y2="394.5" stroke="#231f20" stroke-width="0.7"/>
<text x="424.4" y="396.7" font-size="6.4" text-anchor="end" fill="#231f20" stroke="#231f20" stroke-width="0.12">0</text>
<line x1="427.5" y1="380.67" x2="430.2" y2="380.67" stroke="#231f20" stroke-width="0.7"/>
<text x="424.4" y="382.87" font-size="6.4" text-anchor="end" fill="#231f20" stroke="#231f20" stroke-width="0.12">100</text>
<line x1="427.5" y1="366.84" x2="430.2" y2="366.84" stroke="#231f20" stroke-width="0.7"/>
<text x="424.4" y="369.03999999999996" font-size="6.4" text-anchor="end" fill="#231f20" stroke="#231f20" stroke-width="0.12">200</text>
<line x1="427.5" y1="353.01" x2="430.2" y2="353.01" stroke="#231f20" stroke-width="0.7"/>
<text x="424.4" y="355.21" font-size="6.4" text-anchor="end" fill="#231f20" stroke="#231f20" stroke-width="0.12">300</text>
<line x1="427.5" y1="339.18" x2="430.2" y2="339.18" stroke="#231f20" stroke-width="0.7"/>
<text x="424.4" y="341.38" font-size="6.4" text-anchor="end" fill="#231f20" stroke="#231f20" stroke-width="0.12">400</text>
<text transform="translate(407.6,365.7) rotate(-90)" x="0" y="0" font-size="8.4" text-anchor="middle" fill="#231f20" stroke="#231f20" stroke-width="0.12" textLength="47.7" lengthAdjust="spacingAndGlyphs">Colony number</text>
<rect x="433.90" y="372.23" width="5.90" height="22.27" fill="#1b4a8a"/>
<line x1="436.84999999999997" y1="372.2337" x2="436.84999999999997" y2="371.4039" stroke="#1b4a8a" stroke-width="0.6"/>
<line x1="435.74999999999994" y1="371.4039" x2="437.95" y2="371.4039" stroke="#1b4a8a" stroke-width="0.6"/>
<rect x="443.00" y="371.96" width="5.90" height="22.54" fill="#f39a1e"/>
<line x1="445.95" y1="371.9571" x2="445.95" y2="371.12730000000005" stroke="#f39a1e" stroke-width="0.6"/>
<line x1="444.84999999999997" y1="371.12730000000005" x2="447.05" y2="371.12730000000005" stroke="#f39a1e" stroke-width="0.6"/>
<rect x="452.00" y="385.65" width="5.90" height="8.85" fill="#c8102e"/>
<line x1="454.95" y1="385.6488" x2="454.95" y2="384.6807" stroke="#c8102e" stroke-width="0.6"/>
<line x1="453.84999999999997" y1="384.6807" x2="456.05" y2="384.6807" stroke="#c8102e" stroke-width="0.6"/>
<rect x="461.10" y="378.04" width="5.90" height="16.46" fill="#9a8fd0"/>
<line x1="464.05" y1="378.0423" x2="464.05" y2="377.0742" stroke="#9a8fd0" stroke-width="0.6"/>
<line x1="462.95" y1="377.0742" x2="465.15000000000003" y2="377.0742" stroke="#9a8fd0" stroke-width="0.6"/>
<rect x="476.10" y="342.64" width="5.90" height="51.86" fill="#1b4a8a"/>
<line x1="479.05" y1="342.6375" x2="479.05" y2="341.5311" stroke="#1b4a8a" stroke-width="0.6"/>
<line x1="477.95" y1="341.5311" x2="480.15000000000003" y2="341.5311" stroke="#1b4a8a" stroke-width="0.6"/>
<rect x="485.30" y="342.08" width="5.90" height="52.42" fill="#f39a1e"/>
<line x1="488.25" y1="342.0843" x2="488.25" y2="340.9779" stroke="#f39a1e" stroke-width="0.6"/>
<line x1="487.15" y1="340.9779" x2="489.35" y2="340.9779" stroke="#f39a1e" stroke-width="0.6"/>
<rect x="494.70" y="379.98" width="5.90" height="14.52" fill="#c8102e"/>
<line x1="497.65" y1="379.9785" x2="497.65" y2="379.0104" stroke="#c8102e" stroke-width="0.6"/>
<line x1="496.54999999999995" y1="379.0104" x2="498.75" y2="379.0104" stroke="#c8102e" stroke-width="0.6"/>
<rect x="503.90" y="353.29" width="5.90" height="41.21" fill="#9a8fd0"/>
<line x1="506.84999999999997" y1="353.2866" x2="506.84999999999997" y2="352.31850000000003" stroke="#9a8fd0" stroke-width="0.6"/>
<line x1="505.74999999999994" y1="352.31850000000003" x2="507.95" y2="352.31850000000003" stroke="#9a8fd0" stroke-width="0.6"/>
<line x1="450.3" y1="394.5" x2="450.3" y2="397.5" stroke="#231f20" stroke-width="0.7"/>
<line x1="492.8" y1="394.5" x2="492.8" y2="397.5" stroke="#231f20" stroke-width="0.7"/>
<path d="M436.45,363.29999999999995 L436.45,361.4 L464.05,361.4 L464.05,363.29999999999995" stroke="#333" stroke-width="0.75" fill="none"/>
<path d="M436.45,369.09999999999997 L436.45,367.2 L464.05,367.2 L464.05,369.09999999999997 M454.95,367.2 L454.95,369.4" stroke="#333" stroke-width="0.75" fill="none"/>
<text x="445.9" y="368.6792" font-size="6.6" text-anchor="middle" fill="#333" stroke="#333" stroke-width="0.12" textLength="7.8" lengthAdjust="spacingAndGlyphs">***</text>
<text x="460.0" y="368.6792" font-size="6.6" text-anchor="middle" fill="#333" stroke="#333" stroke-width="0.12" textLength="7.8" lengthAdjust="spacingAndGlyphs">***</text>
<text x="450.45" y="362.9792" font-size="6.6" text-anchor="middle" fill="#333" stroke="#333" stroke-width="0.12" textLength="5.2" lengthAdjust="spacingAndGlyphs">**</text>
<path d="M478.65000000000003,333.0 L478.65000000000003,331.1 L506.84999999999997,331.1 L506.84999999999997,333.0" stroke="#333" stroke-width="0.75" fill="none"/>
<path d="M478.65000000000003,338.2 L478.65000000000003,336.3 L506.84999999999997,336.3 L506.84999999999997,338.2 M497.65,336.3 L497.65,338.5" stroke="#333" stroke-width="0.75" fill="none"/>
<text x="488.35" y="337.7792" font-size="6.6" text-anchor="middle" fill="#333" stroke="#333" stroke-width="0.12" textLength="7.8" lengthAdjust="spacingAndGlyphs">***</text>
<text x="502.75" y="337.7792" font-size="6.6" text-anchor="middle" fill="#333" stroke="#333" stroke-width="0.12" textLength="7.8" lengthAdjust="spacingAndGlyphs">***</text>
<text x="492.95" y="332.67920000000004" font-size="6.6" text-anchor="middle" fill="#333" stroke="#333" stroke-width="0.12" textLength="7.8" lengthAdjust="spacingAndGlyphs">***</text>
<text x="450.6" y="406.7" font-size="7.4" text-anchor="middle" fill="#231f20" stroke="#231f20" stroke-width="0.12" textLength="30.4" lengthAdjust="spacingAndGlyphs">1st plating</text>
<text x="493.4" y="406.7" font-size="7.4" text-anchor="middle" fill="#231f20" stroke="#231f20" stroke-width="0.12" textLength="34.0" lengthAdjust="spacingAndGlyphs">2nd plating</text>
<circle cx="407.30" cy="209.60" r="0.55" fill="#444"/>
<circle cx="407.30" cy="211.30" r="0.55" fill="#444"/>
<circle cx="417.60" cy="245.30" r="0.55" fill="#444"/>
<circle cx="419.90" cy="245.10" r="0.55" fill="#444"/>
<circle cx="438.30" cy="242.20" r="0.55" fill="#444"/>
<circle cx="449.70" cy="233.60" r="0.55" fill="#444"/>
<circle cx="82.00" cy="386.40" r="0.55" fill="#444"/>
<circle cx="84.60" cy="386.70" r="0.55" fill="#444"/>
<circle cx="219.70" cy="340.50" r="0.55" fill="#444"/>
<circle cx="490.60" cy="472.60" r="0.55" fill="#444"/>
<circle cx="295.00" cy="612.60" r="0.55" fill="#444"/>
<circle cx="303.30" cy="613.20" r="0.55" fill="#444"/>
<circle cx="312.00" cy="596.00" r="0.55" fill="#444"/>
<circle cx="320.60" cy="612.40" r="0.55" fill="#444"/>
<circle cx="312.00" cy="588.20" r="0.55" fill="#444"/>
<circle cx="329.00" cy="444.60" r="0.55" fill="#444"/>
<circle cx="343.20" cy="444.60" r="0.55" fill="#444"/>
<circle cx="334.30" cy="459.20" r="0.55" fill="#444"/>
<circle cx="349.00" cy="453.00" r="0.55" fill="#444"/>
<circle cx="377.60" cy="455.30" r="0.55" fill="#444"/>
<circle cx="392.40" cy="457.30" r="0.55" fill="#444"/>
<text x="7.01" y="429.5" font-size="12.2" font-weight="bold" fill="#000" textLength="5.29" lengthAdjust="spacingAndGlyphs">J</text>
<rect x="35.90" y="427.75" width="5.40" height="2.70" fill="#1b4a8a"/>
<text x="44.5" y="431.55" font-size="7.0" fill="#2e2e2e" stroke="#2e2e2e" stroke-width="0.06" textLength="35.8" lengthAdjust="spacingAndGlyphs">WT+vehicle</text>
<rect x="84.30" y="427.75" width="5.40" height="2.70" fill="#f39a1e"/>
<text x="92.9" y="431.55" font-size="7.0" fill="#2e2e2e" stroke="#2e2e2e" stroke-width="0.06" textLength="28.8" lengthAdjust="spacingAndGlyphs">WT+NAC</text>
<rect x="35.90" y="435.65" width="5.40" height="2.70" fill="#c8102e"/>
<text x="44.5" y="439.45" font-size="7.0" fill="#2e2e2e" stroke="#2e2e2e" stroke-width="0.06" textLength="35.8" lengthAdjust="spacingAndGlyphs">KO+vehicle</text>
<rect x="84.30" y="435.65" width="5.40" height="2.70" fill="#9a8fd0"/>
<text x="92.9" y="439.45" font-size="7.0" fill="#2e2e2e" stroke="#2e2e2e" stroke-width="0.06" textLength="28.4" lengthAdjust="spacingAndGlyphs">KO+NAC</text>
<line x1="45.6" y1="452.0" x2="45.6" y2="510.09999999999997" stroke="#231f20" stroke-width="1.0"/>
<line x1="45.15" y1="509.7" x2="127.3" y2="509.7" stroke="#231f20" stroke-width="1.0"/>
<line x1="42.4" y1="509.7" x2="45.6" y2="509.7" stroke="#231f20" stroke-width="0.7"/>
<text x="39.7" y="512.0" font-size="6.6" text-anchor="end" fill="#231f20" stroke="#231f20" stroke-width="0.12">0</text>
<line x1="42.4" y1="496.05" x2="45.6" y2="496.05" stroke="#231f20" stroke-width="0.7"/>
<text x="39.7" y="498.35" font-size="6.6" text-anchor="end" fill="#231f20" stroke="#231f20" stroke-width="0.12">10</text>
<line x1="42.4" y1="482.4" x2="45.6" y2="482.4" stroke="#231f20" stroke-width="0.7"/>
<text x="39.7" y="484.7" font-size="6.6" text-anchor="end" fill="#231f20" stroke="#231f20" stroke-width="0.12">20</text>
<line x1="42.4" y1="468.75" x2="45.6" y2="468.75" stroke="#231f20" stroke-width="0.7"/>
<text x="39.7" y="471.05" font-size="6.6" text-anchor="end" fill="#231f20" stroke="#231f20" stroke-width="0.12">30</text>
<line x1="42.4" y1="455.09999999999997" x2="45.6" y2="455.09999999999997" stroke="#231f20" stroke-width="0.7"/>
<text x="39.7" y="457.4" font-size="6.6" text-anchor="end" fill="#231f20" stroke="#231f20" stroke-width="0.12">40</text>
<text transform="translate(27.0,480.6) rotate(-90)" x="0" y="0" font-size="8.4" text-anchor="middle" fill="#231f20" stroke="#231f20" stroke-width="0.12" textLength="62.3" lengthAdjust="spacingAndGlyphs">Cell number (× 10<tspan font-size="5.5" dy="-3.2">5</tspan><tspan dy="3.2">)</tspan></text>
<rect x="48.10" y="490.45" width="6.10" height="19.25" fill="#1b4a8a"/>
<line x1="51.15" y1="490.45349999999996" x2="51.15" y2="489.3615" stroke="#1b4a8a" stroke-width="0.6"/>
<line x1="50.05" y1="489.3615" x2="52.25" y2="489.3615" stroke="#1b4a8a" stroke-width="0.6"/>
<rect x="57.40" y="490.86" width="6.10" height="18.84" fill="#f39a1e"/>
<line x1="60.449999999999996" y1="490.863" x2="60.449999999999996" y2="490.044" stroke="#f39a1e" stroke-width="0.6"/>
<line x1="59.349999999999994" y1="490.044" x2="61.55" y2="490.044" stroke="#f39a1e" stroke-width="0.6"/>
<rect x="67.00" y="506.83" width="6.10" height="2.87" fill="#c8102e"/>
<line x1="70.05" y1="506.8335" x2="70.05" y2="506.42400000000004" stroke="#c8102e" stroke-width="0.6"/>
<line x1="68.95" y1="506.42400000000004" x2="71.14999999999999" y2="506.42400000000004" stroke="#c8102e" stroke-width="0.6"/>
<rect x="76.20" y="500.14" width="6.10" height="9.55" fill="#9a8fd0"/>
<line x1="79.25" y1="500.145" x2="79.25" y2="499.599" stroke="#9a8fd0" stroke-width="0.6"/>
<line x1="78.15" y1="499.599" x2="80.35" y2="499.599" stroke="#9a8fd0" stroke-width="0.6"/>
<rect x="91.20" y="464.38" width="6.10" height="45.32" fill="#1b4a8a"/>
<line x1="94.25" y1="464.382" x2="94.25" y2="463.017" stroke="#1b4a8a" stroke-width="0.6"/>
<line x1="93.15" y1="463.017" x2="95.35" y2="463.017" stroke="#1b4a8a" stroke-width="0.6"/>
<rect x="100.40" y="463.97" width="6.10" height="45.73" fill="#f39a1e"/>
<line x1="103.45" y1="463.97249999999997" x2="103.45" y2="461.652" stroke="#f39a1e" stroke-width="0.6"/>
<line x1="102.35000000000001" y1="461.652" x2="104.55" y2="461.652" stroke="#f39a1e" stroke-width="0.6"/>
<rect x="109.80" y="499.74" width="6.10" height="9.96" fill="#c8102e"/>
<line x1="112.85" y1="499.7355" x2="112.85" y2="499.1895" stroke="#c8102e" stroke-width="0.6"/>
<line x1="111.75" y1="499.1895" x2="113.94999999999999" y2="499.1895" stroke="#c8102e" stroke-width="0.6"/>
<rect x="119.00" y="484.58" width="6.10" height="25.12" fill="#9a8fd0"/>
<line x1="122.05" y1="484.584" x2="122.05" y2="481.035" stroke="#9a8fd0" stroke-width="0.6"/>
<line x1="120.95" y1="481.035" x2="123.14999999999999" y2="481.035" stroke="#9a8fd0" stroke-width="0.6"/>
<line x1="65.2" y1="509.7" x2="65.2" y2="512.7" stroke="#231f20" stroke-width="0.7"/>
<line x1="107.8" y1="509.7" x2="107.8" y2="512.7" stroke="#231f20" stroke-width="0.7"/>
<path d="M51.15,481.5 L51.15,479.6 L79.25,479.6 L79.25,481.5" stroke="#333" stroke-width="0.75" fill="none"/>
<path d="M51.15,486.9 L51.15,485.0 L79.25,485.0 L79.25,486.9 M70.05,485.0 L70.05,487.2" stroke="#333" stroke-width="0.75" fill="none"/>
<text x="60.599999999999994" y="486.5792" font-size="6.6" text-anchor="middle" fill="#333" stroke="#333" stroke-width="0.12" textLength="7.8" lengthAdjust="spacingAndGlyphs">***</text>
<text x="75.15" y="486.5792" font-size="6.6" text-anchor="middle" fill="#333" stroke="#333" stroke-width="0.12" textLength="7.8" lengthAdjust="spacingAndGlyphs">***</text>
<text x="65.2" y="481.17920000000004" font-size="6.6" text-anchor="middle" fill="#333" stroke="#333" stroke-width="0.12" textLength="7.8" lengthAdjust="spacingAndGlyphs">***</text>
<path d="M94.25,454.29999999999995 L94.25,452.4 L122.05,452.4 L122.05,454.29999999999995" stroke="#333" stroke-width="0.75" fill="none"/>
<path d="M94.25,460.4 L94.25,458.5 L122.05,458.5 L122.05,460.4 M112.85,458.5 L112.85,460.7" stroke="#333" stroke-width="0.75" fill="none"/>
<text x="103.55" y="460.0792" font-size="6.6" text-anchor="middle" fill="#333" stroke="#333" stroke-width="0.12" textLength="7.8" lengthAdjust="spacingAndGlyphs">***</text>
<text x="117.94999999999999" y="460.0792" font-size="6.6" text-anchor="middle" fill="#333" stroke="#333" stroke-width="0.12" textLength="7.8" lengthAdjust="spacingAndGlyphs">***</text>
<text x="108.15" y="453.9792" font-size="6.6" text-anchor="middle" fill="#333" stroke="#333" stroke-width="0.12" textLength="7.8" lengthAdjust="spacingAndGlyphs">***</text>
<text x="65.7" y="521.9" font-size="7.4" text-anchor="middle" fill="#231f20" stroke="#231f20" stroke-width="0.12" textLength="30.4" lengthAdjust="spacingAndGlyphs">1st plating</text>
<text x="108.4" y="521.9" font-size="7.4" text-anchor="middle" fill="#231f20" stroke="#231f20" stroke-width="0.12" textLength="34.0" lengthAdjust="spacingAndGlyphs">2nd plating</text>
<defs><filter id="bl" x="-20%" y="-50%" width="140%" height="200%"><feGaussianBlur stdDeviation="0.35"/></filter></defs>
<text x="143.36" y="424.6" font-size="12.2" font-weight="bold" fill="#000" textLength="7.59" lengthAdjust="spacingAndGlyphs">K</text>
<text x="202.9" y="433.2" font-size="8.8" fill="#231f20" stroke="#231f20" stroke-width="0.12" textLength="30.8" lengthAdjust="spacingAndGlyphs">L-GMPs</text>
<line x1="187.8" y1="435.4" x2="251.6" y2="435.4" stroke="#333" stroke-width="0.7"/>
<text transform="translate(183.6,454.0) rotate(-45)" x="0" y="0" font-size="6.8" fill="#231f20" stroke="#231f20" stroke-width="0.12" textLength="15.6" lengthAdjust="spacingAndGlyphs">WT 1</text>
<text transform="translate(195.8,454.0) rotate(-45)" x="0" y="0" font-size="6.8" fill="#231f20" stroke="#231f20" stroke-width="0.12" textLength="15.6" lengthAdjust="spacingAndGlyphs">WT 2</text>
<text transform="translate(208.1,454.0) rotate(-45)" x="0" y="0" font-size="6.8" fill="#231f20" stroke="#231f20" stroke-width="0.12" textLength="15.6" lengthAdjust="spacingAndGlyphs">WT 3</text>
<text transform="translate(220.70000000000002,454.0) rotate(-45)" x="0" y="0" font-size="6.8" fill="#231f20" stroke="#231f20" stroke-width="0.12" textLength="15.6" lengthAdjust="spacingAndGlyphs">KO 1</text>
<text transform="translate(233.20000000000002,454.0) rotate(-45)" x="0" y="0" font-size="6.8" fill="#231f20" stroke="#231f20" stroke-width="0.12" textLength="15.6" lengthAdjust="spacingAndGlyphs">KO 2</text>
<text transform="translate(245.9,454.0) rotate(-45)" x="0" y="0" font-size="6.8" fill="#231f20" stroke="#231f20" stroke-width="0.12" textLength="15.6" lengthAdjust="spacingAndGlyphs">KO 3</text>
<rect x="177.9" y="456.9" width="76.69999999999999" height="10.100000000000023" fill="#e2e2e2" stroke="#262626" stroke-width="0.9"/>
<rect x="179.90" y="461.20" width="10.60" height="2.60" rx="1.04" ry="1.04" fill="#141414" fill-opacity="0.92" filter="url(#bl)"/>
<rect x="192.10" y="461.20" width="10.60" height="2.60" rx="1.04" ry="1.04" fill="#141414" fill-opacity="0.92" filter="url(#bl)"/>
<rect x="204.40" y="461.20" width="10.60" height="2.60" rx="1.04" ry="1.04" fill="#141414" fill-opacity="0.92" filter="url(#bl)"/>
<rect x="217.00" y="461.30" width="10.60" height="1.80" rx="0.72" ry="0.72" fill="#141414" fill-opacity="0.16" filter="url(#bl)"/>
<rect x="229.50" y="461.10" width="10.60" height="1.80" rx="0.72" ry="0.72" fill="#141414" fill-opacity="0.2" filter="url(#bl)"/>
<rect x="242.20" y="460.80" width="10.60" height="2.00" rx="0.80" ry="0.80" fill="#141414" fill-opacity="0.28" filter="url(#bl)"/>
<rect x="177.9" y="470.2" width="76.69999999999999" height="10.300000000000011" fill="#e2e2e2" stroke="#262626" stroke-width="0.9"/>
<rect x="179.90" y="473.55" width="10.60" height="2.90" rx="1.16" ry="1.16" fill="#141414" fill-opacity="0.93" filter="url(#bl)"/>
<rect x="192.10" y="473.55" width="10.60" height="2.90" rx="1.16" ry="1.16" fill="#141414" fill-opacity="0.93" filter="url(#bl)"/>
<rect x="204.40" y="473.55" width="10.60" height="2.90" rx="1.16" ry="1.16" fill="#141414" fill-opacity="0.93" filter="url(#bl)"/>
<rect x="217.00" y="473.60" width="10.60" height="2.00" rx="0.80" ry="0.80" fill="#141414" fill-opacity="0.2" filter="url(#bl)"/>
<rect x="229.50" y="473.50" width="10.60" height="2.00" rx="0.80" ry="0.80" fill="#141414" fill-opacity="0.22" filter="url(#bl)"/>
<rect x="242.20" y="473.30" width="10.60" height="2.00" rx="0.80" ry="0.80" fill="#141414" fill-opacity="0.28" filter="url(#bl)"/>
<rect x="177.9" y="483.4" width="76.69999999999999" height="9.900000000000034" fill="#e2e2e2" stroke="#262626" stroke-width="0.9"/>
<rect x="179.90" y="486.60" width="10.60" height="3.40" rx="1.36" ry="1.36" fill="#141414" fill-opacity="0.97" filter="url(#bl)"/>
<rect x="192.10" y="486.60" width="10.60" height="3.40" rx="1.36" ry="1.36" fill="#141414" fill-opacity="0.97" filter="url(#bl)"/>
<rect x="204.40" y="486.60" width="10.60" height="3.40" rx="1.36" ry="1.36" fill="#141414" fill-opacity="0.97" filter="url(#bl)"/>
<rect x="217.00" y="486.20" width="10.60" height="3.40" rx="1.36" ry="1.36" fill="#141414" fill-opacity="0.97" filter="url(#bl)"/>
<rect x="229.50" y="485.90" width="10.60" height="3.40" rx="1.36" ry="1.36" fill="#141414" fill-opacity="0.97" filter="url(#bl)"/>
<rect x="242.20" y="485.70" width="10.60" height="3.40" rx="1.36" ry="1.36" fill="#141414" fill-opacity="0.97" filter="url(#bl)"/>
<rect x="177.9" y="495.3" width="76.69999999999999" height="9.099999999999966" fill="#e2e2e2" stroke="#262626" stroke-width="0.9"/>
<rect x="179.90" y="499.15" width="10.60" height="1.70" rx="0.68" ry="0.68" fill="#141414" fill-opacity="0.8" filter="url(#bl)"/>
<rect x="192.10" y="499.15" width="10.60" height="1.70" rx="0.68" ry="0.68" fill="#141414" fill-opacity="0.8" filter="url(#bl)"/>
<rect x="204.40" y="499.15" width="10.60" height="1.70" rx="0.68" ry="0.68" fill="#141414" fill-opacity="0.8" filter="url(#bl)"/>
<rect x="217.00" y="498.65" width="10.60" height="1.70" rx="0.68" ry="0.68" fill="#141414" fill-opacity="0.8" filter="url(#bl)"/>
<rect x="229.50" y="498.45" width="10.60" height="1.70" rx="0.68" ry="0.68" fill="#141414" fill-opacity="0.85" filter="url(#bl)"/>
<rect x="242.20" y="498.35" width="10.60" height="1.70" rx="0.68" ry="0.68" fill="#141414" fill-opacity="0.85" filter="url(#bl)"/>
<rect x="177.9" y="506.4" width="76.69999999999999" height="10.700000000000045" fill="#e2e2e2" stroke="#262626" stroke-width="0.9"/>
<rect x="179.30" y="511.10" width="11.80" height="3.60" rx="1.44" ry="1.44" fill="#141414" fill-opacity="0.98" filter="url(#bl)"/>
<rect x="191.50" y="511.10" width="11.80" height="3.60" rx="1.44" ry="1.44" fill="#141414" fill-opacity="0.98" filter="url(#bl)"/>
<rect x="203.80" y="511.10" width="11.80" height="3.60" rx="1.44" ry="1.44" fill="#141414" fill-opacity="0.98" filter="url(#bl)"/>
<rect x="217.80" y="509.40" width="9.00" height="1.40" rx="0.56" ry="0.56" fill="#141414" fill-opacity="0.28" filter="url(#bl)"/>
<rect x="229.50" y="508.90" width="10.60" height="2.00" rx="0.80" ry="0.80" fill="#141414" fill-opacity="0.8" filter="url(#bl)"/>
<rect x="242.20" y="508.50" width="10.60" height="2.40" rx="0.96" ry="0.96" fill="#141414" fill-opacity="0.92" filter="url(#bl)"/>
<rect x="177.9" y="518.7" width="76.69999999999999" height="10.699999999999932" fill="#e2e2e2" stroke="#262626" stroke-width="0.9"/>
<rect x="179.90" y="522.20" width="10.60" height="2.60" rx="1.04" ry="1.04" fill="#141414" fill-opacity="0.93" filter="url(#bl)"/>
<rect x="192.10" y="522.20" width="10.60" height="2.60" rx="1.04" ry="1.04" fill="#141414" fill-opacity="0.93" filter="url(#bl)"/>
<rect x="204.40" y="522.20" width="10.60" height="2.60" rx="1.04" ry="1.04" fill="#141414" fill-opacity="0.93" filter="url(#bl)"/>
<rect x="177.9" y="531.5" width="76.69999999999999" height="10.299999999999955" fill="#e2e2e2" stroke="#262626" stroke-width="0.9"/>
<rect x="179.90" y="535.10" width="10.60" height="3.40" rx="1.36" ry="1.36" fill="#141414" fill-opacity="0.97" filter="url(#bl)"/>
<rect x="192.10" y="535.10" width="10.60" height="3.40" rx="1.36" ry="1.36" fill="#141414" fill-opacity="0.97" filter="url(#bl)"/>
<rect x="204.40" y="535.10" width="10.60" height="3.40" rx="1.36" ry="1.36" fill="#141414" fill-opacity="0.97" filter="url(#bl)"/>
<rect x="217.00" y="534.50" width="10.60" height="3.40" rx="1.36" ry="1.36" fill="#141414" fill-opacity="0.97" filter="url(#bl)"/>
<rect x="229.50" y="534.20" width="10.60" height="3.40" rx="1.36" ry="1.36" fill="#141414" fill-opacity="0.97" filter="url(#bl)"/>
<rect x="242.20" y="533.90" width="10.60" height="3.40" rx="1.36" ry="1.36" fill="#141414" fill-opacity="0.97" filter="url(#bl)"/>
<text x="174.4" y="460.4" font-size="6.7" text-anchor="end" fill="#231f20" stroke="#231f20" stroke-width="0.12" textLength="17.9" lengthAdjust="spacingAndGlyphs">p-AKT</text>
<text x="174.4" y="467.1" font-size="6.7" text-anchor="end" fill="#231f20" stroke="#231f20" stroke-width="0.12" textLength="17.8" lengthAdjust="spacingAndGlyphs">(S473)</text>
<text x="174.4" y="474.9" font-size="6.7" text-anchor="end" fill="#231f20" stroke="#231f20" stroke-width="0.12" textLength="17.9" lengthAdjust="spacingAndGlyphs">p-AKT</text>
<text x="174.4" y="482.7" font-size="6.7" text-anchor="end" fill="#231f20" stroke="#231f20" stroke-width="0.12" textLength="17.8" lengthAdjust="spacingAndGlyphs">(T308)</text>
<text x="174.4" y="491.8" font-size="6.7" text-anchor="end" fill="#231f20" stroke="#231f20" stroke-width="0.12" textLength="11.6" lengthAdjust="spacingAndGlyphs">AKT</text>
<text x="174.4" y="504.5" font-size="6.7" text-anchor="end" fill="#231f20" stroke="#231f20" stroke-width="0.12" textLength="17.4" lengthAdjust="spacingAndGlyphs">G6PD</text>
<text x="174.4" y="515.0" font-size="6.7" text-anchor="end" fill="#231f20" stroke="#231f20" stroke-width="0.12" textLength="13.4" lengthAdjust="spacingAndGlyphs">PGD</text>
<text x="174.4" y="526.5" font-size="6.7" text-anchor="end" fill="#231f20" stroke="#231f20" stroke-width="0.12" textLength="15.5" lengthAdjust="spacingAndGlyphs">PI3Kγ</text>
<text x="174.4" y="538.3" font-size="6.7" text-anchor="end" fill="#231f20" stroke="#231f20" stroke-width="0.12" textLength="19.6" lengthAdjust="spacingAndGlyphs">β-actin</text>
<text x="275.81" y="424.6" font-size="12.2" font-weight="bold" fill="#000" textLength="5.93" lengthAdjust="spacingAndGlyphs">L</text>
<rect x="338.80" y="429.80" width="6.90" height="2.90" fill="#1b4a8a"/>
<text x="348.0" y="434.0" font-size="7.6" fill="#231f20" stroke="#231f20" stroke-width="0.12" textLength="10.5" lengthAdjust="spacingAndGlyphs">WT</text>
<rect x="362.60" y="429.80" width="6.90" height="2.90" fill="#c8102e"/>
<text x="371.8" y="434.0" font-size="7.6" fill="#231f20" stroke="#231f20" stroke-width="0.12" textLength="9.6" lengthAdjust="spacingAndGlyphs">KO</text>
<line x1="324.2" y1="433.3" x2="324.2" y2="477.4" stroke="#231f20" stroke-width="1.0"/>
<line x1="323.75" y1="477.0" x2="396.8" y2="477.0" stroke="#231f20" stroke-width="1.0"/>
<line x1="321.5" y1="435.0" x2="324.2" y2="435.0" stroke="#231f20" stroke-width="0.7"/>
<text x="318.9" y="437.3" font-size="6.6" text-anchor="end" fill="#231f20" stroke="#231f20" stroke-width="0.12" textLength="9.2" lengthAdjust="spacingAndGlyphs">1.5</text>
<line x1="321.5" y1="449.0" x2="324.2" y2="449.0" stroke="#231f20" stroke-width="0.7"/>
<text x="318.9" y="451.3" font-size="6.6" text-anchor="end" fill="#231f20" stroke="#231f20" stroke-width="0.12" textLength="9.2" lengthAdjust="spacingAndGlyphs">1.0</text>
<line x1="321.5" y1="463.0" x2="324.2" y2="463.0" stroke="#231f20" stroke-width="0.7"/>
<text x="318.9" y="465.3" font-size="6.6" text-anchor="end" fill="#231f20" stroke="#231f20" stroke-width="0.12" textLength="9.2" lengthAdjust="spacingAndGlyphs">0.5</text>
<line x1="321.5" y1="477.0" x2="324.2" y2="477.0" stroke="#231f20" stroke-width="0.7"/>
<text x="318.9" y="479.3" font-size="6.6" text-anchor="end" fill="#231f20" stroke="#231f20" stroke-width="0.12" textLength="9.2" lengthAdjust="spacingAndGlyphs">0.0</text>
<text transform="translate(293.4,454.7) rotate(-90)" x="0" y="0" font-size="8.2" text-anchor="middle" fill="#231f20" stroke="#231f20" stroke-width="0.12" textLength="37.7" lengthAdjust="spacingAndGlyphs">Fold change</text>
<text transform="translate(303.4,453.5) rotate(-90)" x="0" y="0" font-size="8.2" text-anchor="middle" fill="#231f20" stroke="#231f20" stroke-width="0.12" textLength="56.5" lengthAdjust="spacingAndGlyphs">(normalized to WT)</text>
<rect x="326.90" y="448.16" width="3.70" height="28.84" fill="#1b4a8a"/>
<line x1="328.75" y1="448.16" x2="328.75" y2="447.26000000000005" stroke="#1b4a8a" stroke-width="0.6"/>
<line x1="327.65" y1="447.26000000000005" x2="329.85" y2="447.26000000000005" stroke="#1b4a8a" stroke-width="0.6"/>
<rect x="332.20" y="463.42" width="3.70" height="13.58" fill="#c8102e"/>
<line x1="334.05" y1="463.42" x2="334.05" y2="461.82" stroke="#c8102e" stroke-width="0.6"/>
<line x1="333.25" y1="461.82" x2="334.85" y2="461.82" stroke="#c8102e" stroke-width="0.6"/>
<line x1="331.5" y1="477.0" x2="331.5" y2="479.6" stroke="#231f20" stroke-width="0.7"/>
<path d="M327.5,442.7 L327.5,440.3 L335.29999999999995,440.3 L335.29999999999995,442.7" stroke="#333" stroke-width="0.75" fill="none"/>
<text x="331.5" y="442.284" font-size="7.0" text-anchor="middle" fill="#333" stroke="#333" stroke-width="0.12" textLength="8.4" lengthAdjust="spacingAndGlyphs">***</text>
<text transform="translate(335.5,486.8) rotate(-45)" x="0" y="0" font-size="6.6" text-anchor="end" fill="#231f20" stroke="#231f20" stroke-width="0.12">Ribulose 5-phosphate</text>
<rect x="341.10" y="448.16" width="3.70" height="28.84" fill="#1b4a8a"/>
<line x1="342.95000000000005" y1="448.16" x2="342.95000000000005" y2="447.26000000000005" stroke="#1b4a8a" stroke-width="0.6"/>
<line x1="341.85" y1="447.26000000000005" x2="344.05000000000007" y2="447.26000000000005" stroke="#1b4a8a" stroke-width="0.6"/>
<rect x="346.80" y="457.68" width="3.70" height="19.32" fill="#c8102e"/>
<line x1="348.65000000000003" y1="457.68" x2="348.65000000000003" y2="456.08" stroke="#c8102e" stroke-width="0.6"/>
<line x1="347.85" y1="456.08" x2="349.45000000000005" y2="456.08" stroke="#c8102e" stroke-width="0.6"/>
<line x1="345.4" y1="477.0" x2="345.4" y2="479.6" stroke="#231f20" stroke-width="0.7"/>
<path d="M341.70000000000005,442.7 L341.70000000000005,440.3 L349.9,440.3 L349.9,442.7" stroke="#333" stroke-width="0.75" fill="none"/>
<text x="345.4" y="442.284" font-size="7.0" text-anchor="middle" fill="#333" stroke="#333" stroke-width="0.12" textLength="5.6" lengthAdjust="spacingAndGlyphs">**</text>
<text transform="translate(349.4,486.8) rotate(-45)" x="0" y="0" font-size="6.6" text-anchor="end" fill="#231f20" stroke="#231f20" stroke-width="0.12">Ribose 5-phosphate</text>
<rect x="355.70" y="448.16" width="3.70" height="28.84" fill="#1b4a8a"/>
<line x1="357.55" y1="448.16" x2="357.55" y2="447.26000000000005" stroke="#1b4a8a" stroke-width="0.6"/>
<line x1="356.45" y1="447.26000000000005" x2="358.65000000000003" y2="447.26000000000005" stroke="#1b4a8a" stroke-width="0.6"/>
<rect x="361.10" y="463.84" width="3.70" height="13.16" fill="#c8102e"/>
<line x1="362.95000000000005" y1="463.84" x2="362.95000000000005" y2="462.23999999999995" stroke="#c8102e" stroke-width="0.6"/>
<line x1="362.15000000000003" y1="462.23999999999995" x2="363.75000000000006" y2="462.23999999999995" stroke="#c8102e" stroke-width="0.6"/>
<line x1="359.5" y1="477.0" x2="359.5" y2="479.6" stroke="#231f20" stroke-width="0.7"/>
<path d="M356.3,442.7 L356.3,440.3 L364.2,440.3 L364.2,442.7" stroke="#333" stroke-width="0.75" fill="none"/>
<text x="359.5" y="442.284" font-size="7.0" text-anchor="middle" fill="#333" stroke="#333" stroke-width="0.12" textLength="8.4" lengthAdjust="spacingAndGlyphs">***</text>
<text transform="translate(363.5,486.8) rotate(-45)" x="0" y="0" font-size="6.6" text-anchor="end" fill="#231f20" stroke="#231f20" stroke-width="0.12">Xylulose 5-phosphate</text>
<rect x="370.30" y="448.16" width="3.70" height="28.84" fill="#1b4a8a"/>
<line x1="372.15000000000003" y1="448.16" x2="372.15000000000003" y2="447.26000000000005" stroke="#1b4a8a" stroke-width="0.6"/>
<line x1="371.05" y1="447.26000000000005" x2="373.25000000000006" y2="447.26000000000005" stroke="#1b4a8a" stroke-width="0.6"/>
<rect x="375.70" y="459.08" width="3.70" height="17.92" fill="#c8102e"/>
<line x1="377.55" y1="459.08" x2="377.55" y2="457.47999999999996" stroke="#c8102e" stroke-width="0.6"/>
<line x1="376.75" y1="457.47999999999996" x2="378.35" y2="457.47999999999996" stroke="#c8102e" stroke-width="0.6"/>
<line x1="373.7" y1="477.0" x2="373.7" y2="479.6" stroke="#231f20" stroke-width="0.7"/>
<path d="M370.90000000000003,442.7 L370.90000000000003,440.3 L378.79999999999995,440.3 L378.79999999999995,442.7" stroke="#333" stroke-width="0.75" fill="none"/>
<text x="373.7" y="442.284" font-size="7.0" text-anchor="middle" fill="#333" stroke="#333" stroke-width="0.12" textLength="5.6" lengthAdjust="spacingAndGlyphs">**</text>
<text transform="translate(377.7,486.8) rotate(-45)" x="0" y="0" font-size="6.6" text-anchor="end" fill="#231f20" stroke="#231f20" stroke-width="0.12">Sedoheptulose 7-phosphate</text>
<rect x="384.90" y="448.16" width="3.70" height="28.84" fill="#1b4a8a"/>
<line x1="386.75" y1="448.16" x2="386.75" y2="447.26000000000005" stroke="#1b4a8a" stroke-width="0.6"/>
<line x1="385.65" y1="447.26000000000005" x2="387.85" y2="447.26000000000005" stroke="#1b4a8a" stroke-width="0.6"/>
<rect x="390.30" y="461.60" width="3.70" height="15.40" fill="#c8102e"/>
<line x1="392.15000000000003" y1="461.6" x2="392.15000000000003" y2="460.0" stroke="#c8102e" stroke-width="0.6"/>
<line x1="391.35" y1="460.0" x2="392.95000000000005" y2="460.0" stroke="#c8102e" stroke-width="0.6"/>
<line x1="388.8" y1="477.0" x2="388.8" y2="479.6" stroke="#231f20" stroke-width="0.7"/>
<path d="M385.5,442.7 L385.5,440.3 L393.4,440.3 L393.4,442.7" stroke="#333" stroke-width="0.75" fill="none"/>
<text x="388.8" y="442.284" font-size="7.0" text-anchor="middle" fill="#333" stroke="#333" stroke-width="0.12" textLength="8.4" lengthAdjust="spacingAndGlyphs">***</text>
<text transform="translate(392.8,486.8) rotate(-45)" x="0" y="0" font-size="6.6" text-anchor="end" fill="#231f20" stroke="#231f20" stroke-width="0.12">Erythrose 4-phosphate</text>
<text x="410.34" y="425.5" font-size="12.2" font-weight="bold" fill="#000" textLength="11.53" lengthAdjust="spacingAndGlyphs">M</text>
<line x1="455.0" y1="426.3" x2="455.0" y2="479.79999999999995" stroke="#231f20" stroke-width="1.0"/>
<line x1="454.55" y1="479.4" x2="513.1" y2="479.4" stroke="#231f20" stroke-width="1.0"/>
<line x1="452.2" y1="479.4" x2="455.0" y2="479.4" stroke="#231f20" stroke-width="0.7"/>
<text x="448.9" y="481.7" font-size="6.4" text-anchor="end" fill="#231f20" stroke="#231f20" stroke-width="0.12">0</text>
<line x1="452.2" y1="469.32" x2="455.0" y2="469.32" stroke="#231f20" stroke-width="0.7"/>
<text x="448.9" y="471.62" font-size="6.4" text-anchor="end" fill="#231f20" stroke="#231f20" stroke-width="0.12">20</text>
<line x1="452.2" y1="459.23999999999995" x2="455.0" y2="459.23999999999995" stroke="#231f20" stroke-width="0.7"/>
<text x="448.9" y="461.53999999999996" font-size="6.4" text-anchor="end" fill="#231f20" stroke="#231f20" stroke-width="0.12">40</text>
<line x1="452.2" y1="449.15999999999997" x2="455.0" y2="449.15999999999997" stroke="#231f20" stroke-width="0.7"/>
<text x="448.9" y="451.46" font-size="6.4" text-anchor="end" fill="#231f20" stroke="#231f20" stroke-width="0.12">60</text>
<line x1="452.2" y1="439.08" x2="455.0" y2="439.08" stroke="#231f20" stroke-width="0.7"/>
<text x="448.9" y="441.38" font-size="6.4" text-anchor="end" fill="#231f20" stroke="#231f20" stroke-width="0.12">80</text>
<line x1="452.2" y1="429.0" x2="455.0" y2="429.0" stroke="#231f20" stroke-width="0.7"/>
<text x="448.9" y="431.3" font-size="6.4" text-anchor="end" fill="#231f20" stroke="#231f20" stroke-width="0.12">100</text>
<text transform="translate(432.0,452.8) rotate(-90)" x="0" y="0" font-size="8.4" text-anchor="middle" fill="#231f20" stroke="#231f20" stroke-width="0.12" textLength="34.6" lengthAdjust="spacingAndGlyphs">PB cells (%)</text>
<rect x="459.40" y="436.91" width="8.60" height="42.49" fill="#1b4a8a"/>
<line x1="463.7" y1="436.91279999999995" x2="463.7" y2="436.31039999999996" stroke="#1b4a8a" stroke-width="0.6"/>
<line x1="462.4" y1="436.31039999999996" x2="465.0" y2="436.31039999999996" stroke="#1b4a8a" stroke-width="0.6"/>
<rect x="472.90" y="437.82" width="8.60" height="41.58" fill="#f39a1e"/>
<line x1="477.2" y1="437.82" x2="477.2" y2="436.26" stroke="#f39a1e" stroke-width="0.6"/>
<line x1="475.9" y1="436.26" x2="478.5" y2="436.26" stroke="#f39a1e" stroke-width="0.6"/>
<rect x="486.30" y="476.88" width="8.60" height="2.52" fill="#c8102e"/>
<line x1="490.6" y1="476.88" x2="490.6" y2="475.824" stroke="#c8102e" stroke-width="0.6"/>
<line x1="489.3" y1="475.824" x2="491.90000000000003" y2="475.824" stroke="#c8102e" stroke-width="0.6"/>
<rect x="500.00" y="436.91" width="8.60" height="42.49" fill="#9a8fd0"/>
<line x1="504.3" y1="436.91279999999995" x2="504.3" y2="436.1088" stroke="#9a8fd0" stroke-width="0.6"/>
<line x1="503.0" y1="436.1088" x2="505.6" y2="436.1088" stroke="#9a8fd0" stroke-width="0.6"/>
<line x1="463.8" y1="479.4" x2="463.8" y2="482.0" stroke="#231f20" stroke-width="0.7"/>
<line x1="477.3" y1="479.4" x2="477.3" y2="482.0" stroke="#231f20" stroke-width="0.7"/>
<line x1="490.3" y1="479.4" x2="490.3" y2="482.0" stroke="#231f20" stroke-width="0.7"/>
<line x1="503.5" y1="479.4" x2="503.5" y2="482.0" stroke="#231f20" stroke-width="0.7"/>
<path d="M463.4,432.5 L463.4,430.0 L490.0,430.0 L490.0,432.5 M491.3,432.5 L491.3,430.0 L504.4,430.0 L504.4,432.5" stroke="#333" stroke-width="0.75" fill="none"/>
<text x="476.6" y="431.7792" font-size="6.6" text-anchor="middle" fill="#333" stroke="#333" stroke-width="0.12" textLength="7.8" lengthAdjust="spacingAndGlyphs">***</text>
<text x="497.2" y="431.7792" font-size="6.6" text-anchor="middle" fill="#333" stroke="#333" stroke-width="0.12" textLength="7.8" lengthAdjust="spacingAndGlyphs">***</text>
<text transform="translate(466.9,489.29999999999995) rotate(-45)" x="0" y="0" font-size="6.6" text-anchor="end" fill="#231f20" stroke="#231f20" stroke-width="0.12">WT+vector</text>
<text transform="translate(480.4,489.29999999999995) rotate(-45)" x="0" y="0" font-size="6.6" text-anchor="end" fill="#231f20" stroke="#231f20" stroke-width="0.12">WT+PGD</text>
<text transform="translate(493.8,489.29999999999995) rotate(-45)" x="0" y="0" font-size="6.6" text-anchor="end" fill="#231f20" stroke="#231f20" stroke-width="0.12">KO+vector</text>
<text transform="translate(507.5,489.29999999999995) rotate(-45)" x="0" y="0" font-size="6.6" text-anchor="end" fill="#231f20" stroke="#231f20" stroke-width="0.12">KO+PGD</text>
<text x="6.88" y="559.6" font-size="12.2" font-weight="bold" fill="#000" textLength="9.56" lengthAdjust="spacingAndGlyphs">N</text>
<line x1="48.9" y1="567.3" x2="48.9" y2="616.4" stroke="#231f20" stroke-width="1.0"/>
<line x1="48.449999999999996" y1="616.0" x2="129.0" y2="616.0" stroke="#231f20" stroke-width="1.0"/>
<line x1="46.4" y1="616.0" x2="48.9" y2="616.0" stroke="#231f20" stroke-width="0.75"/>
<text x="43.9" y="618.3" font-size="6.6" text-anchor="end" fill="#231f20" stroke="#231f20" stroke-width="0.2" textLength="3.5" lengthAdjust="spacingAndGlyphs">0</text>
<line x1="46.4" y1="592.65" x2="48.9" y2="592.65" stroke="#231f20" stroke-width="0.75"/>
<text x="43.9" y="594.9499999999999" font-size="6.6" text-anchor="end" fill="#231f20" stroke="#231f20" stroke-width="0.2" textLength="7.1" lengthAdjust="spacingAndGlyphs">50</text>
<line x1="46.4" y1="569.3" x2="48.9" y2="569.3" stroke="#231f20" stroke-width="0.75"/>
<text x="43.9" y="571.5999999999999" font-size="6.6" text-anchor="end" fill="#231f20" stroke="#231f20" stroke-width="0.2" textLength="10.7" lengthAdjust="spacingAndGlyphs">100</text>
<line x1="49.3" y1="616.0" x2="49.3" y2="618.2" stroke="#231f20" stroke-width="0.7"/>
<text x="49.3" y="626.8" font-size="6.6" text-anchor="middle" fill="#231f20" stroke="#231f20" stroke-width="0.2" textLength="3.4" lengthAdjust="spacingAndGlyphs">0</text>
<line x1="62.08" y1="616.0" x2="62.08" y2="618.2" stroke="#231f20" stroke-width="0.7"/>
<text x="62.08" y="626.8" font-size="6.6" text-anchor="middle" fill="#231f20" stroke="#231f20" stroke-width="0.2" textLength="6.6" lengthAdjust="spacingAndGlyphs">30</text>
<line x1="74.86" y1="616.0" x2="74.86" y2="618.2" stroke="#231f20" stroke-width="0.7"/>
<text x="74.86" y="626.8" font-size="6.6" text-anchor="middle" fill="#231f20" stroke="#231f20" stroke-width="0.2" textLength="6.6" lengthAdjust="spacingAndGlyphs">60</text>
<line x1="87.63999999999999" y1="616.0" x2="87.63999999999999" y2="618.2" stroke="#231f20" stroke-width="0.7"/>
<text x="87.63999999999999" y="626.8" font-size="6.6" text-anchor="middle" fill="#231f20" stroke="#231f20" stroke-width="0.2" textLength="6.6" lengthAdjust="spacingAndGlyphs">90</text>
<line x1="100.41999999999999" y1="616.0" x2="100.41999999999999" y2="618.2" stroke="#231f20" stroke-width="0.7"/>
<text x="100.41999999999999" y="626.8" font-size="6.6" text-anchor="middle" fill="#231f20" stroke="#231f20" stroke-width="0.2" textLength="10.0" lengthAdjust="spacingAndGlyphs">120</text>
<line x1="113.19999999999999" y1="616.0" x2="113.19999999999999" y2="618.2" stroke="#231f20" stroke-width="0.7"/>
<text x="113.19999999999999" y="626.8" font-size="6.6" text-anchor="middle" fill="#231f20" stroke="#231f20" stroke-width="0.2" textLength="10.0" lengthAdjust="spacingAndGlyphs">150</text>
<line x1="125.97999999999999" y1="616.0" x2="125.97999999999999" y2="618.2" stroke="#231f20" stroke-width="0.7"/>
<text x="125.97999999999999" y="626.8" font-size="6.6" text-anchor="middle" fill="#231f20" stroke="#231f20" stroke-width="0.2" textLength="10.0" lengthAdjust="spacingAndGlyphs">180</text>
<text x="89.2" y="639.6" font-size="9.2" text-anchor="middle" fill="#231f20" stroke="#231f20" stroke-width="0.2" textLength="13.8" lengthAdjust="spacingAndGlyphs">Days</text>
<text transform="translate(26.8,591.1) rotate(-90)" x="0" y="0" font-size="8.3" text-anchor="middle" fill="#231f20" stroke="#231f20" stroke-width="0.2" textLength="47.6" lengthAdjust="spacingAndGlyphs">Percent survival</text>
<path d="M61.65,569.30 H82.53 V578.64 H89.34 V587.98 H96.59 V597.32 H126.41 V597.32" stroke="#c8184a" stroke-width="1.0" fill="none"/>
<path d="M49.30,569.30 H62.08 V578.64 H62.93 V587.98 H63.78 V597.32 H65.49 V606.66 H69.75 V616.00" stroke="#a0a0c0" stroke-width="0.9" fill="none"/>
<path d="M49.30,569.30 H61.65 V578.64 H62.51 V587.98 H63.36 V597.32 H64.64 V606.66 H67.19 V616.00" stroke="#1f4e8c" stroke-width="0.9" fill="none"/>
<path d="M49.30,569.30 H61.23 V578.64 H62.08 V587.98 H63.36 V597.32 H65.06 V606.66 H66.77 V616.00" stroke="#e8a63a" stroke-width="0.9" fill="none"/>
<line x1="107.4" y1="562.4" x2="112.1" y2="562.4" stroke="#1f4e8c" stroke-width="0.9"/>
<text x="115.9" y="564.8" font-size="7.0" fill="#231f20" stroke="#231f20" stroke-width="0.1" textLength="31.9" lengthAdjust="spacingAndGlyphs">WT+vector</text>
<line x1="107.4" y1="570.03" x2="112.1" y2="570.03" stroke="#e8a63a" stroke-width="0.9"/>
<text x="115.9" y="572.43" font-size="7.0" fill="#231f20" stroke="#231f20" stroke-width="0.1" textLength="27.5" lengthAdjust="spacingAndGlyphs">WT+PGD</text>
<line x1="107.4" y1="577.66" x2="112.1" y2="577.66" stroke="#c8184a" stroke-width="0.9"/>
<text x="115.9" y="580.06" font-size="7.0" fill="#231f20" stroke="#231f20" stroke-width="0.1" textLength="31.9" lengthAdjust="spacingAndGlyphs">KO+vector</text>
<line x1="107.4" y1="585.29" x2="112.1" y2="585.29" stroke="#a0a0c0" stroke-width="0.9"/>
<text x="115.9" y="587.6899999999999" font-size="7.0" fill="#231f20" stroke="#231f20" stroke-width="0.1" textLength="27.5" lengthAdjust="spacingAndGlyphs">KO+PGD</text>
<path d="M156.9,562.4 H159.2 V577.5 H156.9" stroke="#333" stroke-width="0.75" fill="none"/>
<circle cx="161.80" cy="568.70" r="0.8" fill="#222"/>
<circle cx="161.80" cy="571.90" r="0.8" fill="#222"/>
<path d="M151.2,577.5 H153.5 V584.3 H151.2" stroke="#333" stroke-width="0.75" fill="none"/>
<circle cx="155.50" cy="580.40" r="0.8" fill="#222"/>
<circle cx="155.50" cy="583.50" r="0.8" fill="#222"/>
<text x="193.53" y="559.7" font-size="12.2" font-weight="bold" fill="#000" textLength="9.85" lengthAdjust="spacingAndGlyphs">O</text>
<rect x="241.70" y="561.00" width="5.40" height="2.80" fill="#1b4a8a"/>
<text x="250.5" y="564.85" font-size="7.0" fill="#2e2e2e" stroke="#2e2e2e" stroke-width="0.06" textLength="32.0" lengthAdjust="spacingAndGlyphs">WT+vector</text>
<rect x="290.20" y="561.00" width="5.40" height="2.80" fill="#f39a1e"/>
<text x="298.99999999999994" y="564.85" font-size="7.0" fill="#2e2e2e" stroke="#2e2e2e" stroke-width="0.06" textLength="28.0" lengthAdjust="spacingAndGlyphs">WT+PGD</text>
<rect x="241.70" y="568.40" width="5.40" height="2.80" fill="#c8102e"/>
<text x="250.5" y="572.25" font-size="7.0" fill="#2e2e2e" stroke="#2e2e2e" stroke-width="0.06" textLength="32.0" lengthAdjust="spacingAndGlyphs">KO+vector</text>
<rect x="290.20" y="568.40" width="5.40" height="2.80" fill="#9a8fd0"/>
<text x="298.99999999999994" y="572.25" font-size="7.0" fill="#2e2e2e" stroke="#2e2e2e" stroke-width="0.06" textLength="28.0" lengthAdjust="spacingAndGlyphs">KO+PGD</text>
<line x1="249.5" y1="578.2" x2="249.5" y2="636.1" stroke="#231f20" stroke-width="1.0"/>
<line x1="249.05" y1="635.7" x2="325.7" y2="635.7" stroke="#231f20" stroke-width="1.0"/>
<line x1="246.7" y1="635.7" x2="249.5" y2="635.7" stroke="#231f20" stroke-width="0.7"/>
<text x="243.9" y="638.0" font-size="6.4" text-anchor="end" fill="#231f20" stroke="#231f20" stroke-width="0.12">0</text>
<line x1="246.7" y1="617.13" x2="249.5" y2="617.13" stroke="#231f20" stroke-width="0.7"/>
<text x="243.9" y="619.43" font-size="6.4" text-anchor="end" fill="#231f20" stroke="#231f20" stroke-width="0.12">1</text>
<line x1="246.7" y1="598.5600000000001" x2="249.5" y2="598.5600000000001" stroke="#231f20" stroke-width="0.7"/>
<text x="243.9" y="600.86" font-size="6.4" text-anchor="end" fill="#231f20" stroke="#231f20" stroke-width="0.12">2</text>
<line x1="246.7" y1="579.99" x2="249.5" y2="579.99" stroke="#231f20" stroke-width="0.7"/>
<text x="243.9" y="582.29" font-size="6.4" text-anchor="end" fill="#231f20" stroke="#231f20" stroke-width="0.12">3</text>
<text transform="translate(215.1,606.5) rotate(-90)" x="0" y="0" font-size="8.6" text-anchor="middle" fill="#231f20" stroke="#231f20" stroke-width="0.12" textLength="60.5" lengthAdjust="spacingAndGlyphs">Relative metabolite</text>
<text transform="translate(224.4,606.5) rotate(-90)" x="0" y="0" font-size="8.6" text-anchor="middle" fill="#231f20" stroke="#231f20" stroke-width="0.12" textLength="55.4" lengthAdjust="spacingAndGlyphs">levels (normalized</text>
<text transform="translate(234.3,607.0) rotate(-90)" x="0" y="0" font-size="8.6" text-anchor="middle" fill="#231f20" stroke="#231f20" stroke-width="0.12" textLength="44.3" lengthAdjust="spacingAndGlyphs">to WT+vector)</text>
<rect x="253.10" y="616.76" width="5.60" height="18.94" fill="#1b4a8a"/>
<line x1="255.9" y1="616.7586" x2="255.9" y2="615.8301" stroke="#1b4a8a" stroke-width="0.6"/>
<line x1="254.9" y1="615.8301" x2="256.9" y2="615.8301" stroke="#1b4a8a" stroke-width="0.6"/>
<rect x="261.30" y="617.50" width="5.60" height="18.20" fill="#f39a1e"/>
<line x1="264.1" y1="617.5014000000001" x2="264.1" y2="616.3872000000001" stroke="#f39a1e" stroke-width="0.6"/>
<line x1="263.1" y1="616.3872000000001" x2="265.1" y2="616.3872000000001" stroke="#f39a1e" stroke-width="0.6"/>
<rect x="269.70" y="631.06" width="5.60" height="4.64" fill="#c8102e"/>
<line x1="272.5" y1="631.0575" x2="272.5" y2="630.5004" stroke="#c8102e" stroke-width="0.6"/>
<line x1="271.5" y1="630.5004" x2="273.5" y2="630.5004" stroke="#c8102e" stroke-width="0.6"/>
<rect x="278.30" y="617.69" width="5.60" height="18.01" fill="#9a8fd0"/>
<line x1="281.1" y1="617.6871000000001" x2="281.1" y2="616.5729000000001" stroke="#9a8fd0" stroke-width="0.6"/>
<line x1="280.1" y1="616.5729000000001" x2="282.1" y2="616.5729000000001" stroke="#9a8fd0" stroke-width="0.6"/>
<rect x="292.20" y="617.50" width="5.60" height="18.20" fill="#1b4a8a"/>
<line x1="295.0" y1="617.5014000000001" x2="295.0" y2="615.6444000000001" stroke="#1b4a8a" stroke-width="0.6"/>
<line x1="294.0" y1="615.6444000000001" x2="296.0" y2="615.6444000000001" stroke="#1b4a8a" stroke-width="0.6"/>
<rect x="300.70" y="615.83" width="5.60" height="19.87" fill="#f39a1e"/>
<line x1="303.5" y1="615.8301" x2="303.5" y2="613.9731" stroke="#f39a1e" stroke-width="0.6"/>
<line x1="302.5" y1="613.9731" x2="304.5" y2="613.9731" stroke="#f39a1e" stroke-width="0.6"/>
<rect x="309.10" y="600.23" width="5.60" height="35.47" fill="#c8102e"/>
<line x1="311.90000000000003" y1="600.2313" x2="311.90000000000003" y2="597.0744000000001" stroke="#c8102e" stroke-width="0.6"/>
<line x1="310.90000000000003" y1="597.0744000000001" x2="312.90000000000003" y2="597.0744000000001" stroke="#c8102e" stroke-width="0.6"/>
<rect x="317.80" y="617.32" width="5.60" height="18.38" fill="#9a8fd0"/>
<line x1="320.6" y1="617.3157" x2="320.6" y2="615.0873" stroke="#9a8fd0" stroke-width="0.6"/>
<line x1="319.6" y1="615.0873" x2="321.6" y2="615.0873" stroke="#9a8fd0" stroke-width="0.6"/>
<line x1="268.1" y1="635.7" x2="268.1" y2="638.3000000000001" stroke="#231f20" stroke-width="0.7"/>
<line x1="306.7" y1="635.7" x2="306.7" y2="638.3000000000001" stroke="#231f20" stroke-width="0.7"/>
<path d="M255.5,611.9000000000001 L255.5,609.7 L281.0,609.7 L281.0,611.9000000000001 M272.0,609.7 L272.0,612.1" stroke="#333" stroke-width="0.75" fill="none"/>
<text x="264.25" y="611.6792" font-size="6.6" text-anchor="middle" fill="#333" stroke="#333" stroke-width="0.12" textLength="7.8" lengthAdjust="spacingAndGlyphs">***</text>
<text x="277.0" y="611.6792" font-size="6.6" text-anchor="middle" fill="#333" stroke="#333" stroke-width="0.12" textLength="7.8" lengthAdjust="spacingAndGlyphs">***</text>
<path d="M295.2,593.0 L295.2,590.8 L320.1,590.8 L320.1,593.0 M311.5,590.8 L311.5,593.1999999999999" stroke="#333" stroke-width="0.75" fill="none"/>
<text x="303.85" y="592.7792" font-size="6.6" text-anchor="middle" fill="#333" stroke="#333" stroke-width="0.12" textLength="7.8" lengthAdjust="spacingAndGlyphs">***</text>
<text x="316.3" y="592.7792" font-size="6.6" text-anchor="middle" fill="#333" stroke="#333" stroke-width="0.12" textLength="7.8" lengthAdjust="spacingAndGlyphs">***</text>
<text x="268.0" y="647.8" font-size="7.0" text-anchor="middle" fill="#231f20" stroke="#231f20" stroke-width="0.12" textLength="23.0" lengthAdjust="spacingAndGlyphs">NADPH</text>
<text x="296.0" y="647.8" font-size="7.0" fill="#231f20" stroke="#231f20" stroke-width="0.12">NADP<tspan font-size="4.5" dy="-3">+</tspan></text>
<text x="354.55" y="559.5" font-size="12.2" font-weight="bold" fill="#000" textLength="7.06" lengthAdjust="spacingAndGlyphs">P</text>
<rect x="412.70" y="560.60" width="6.20" height="2.80" fill="#1b4a8a"/>
<text x="421.9" y="564.45" font-size="7.0" fill="#2e2e2e" stroke="#2e2e2e" stroke-width="0.06" textLength="33.1" lengthAdjust="spacingAndGlyphs">WT+vector</text>
<rect x="462.80" y="560.60" width="6.20" height="2.80" fill="#f39a1e"/>
<text x="472.0" y="564.45" font-size="7.0" fill="#2e2e2e" stroke="#2e2e2e" stroke-width="0.06" textLength="28.4" lengthAdjust="spacingAndGlyphs">WT+PGD</text>
<rect x="412.70" y="568.20" width="6.20" height="2.80" fill="#c8102e"/>
<text x="421.9" y="572.0500000000001" font-size="7.0" fill="#2e2e2e" stroke="#2e2e2e" stroke-width="0.06" textLength="33.1" lengthAdjust="spacingAndGlyphs">KO+vector</text>
<rect x="462.80" y="568.20" width="6.20" height="2.80" fill="#9a8fd0"/>
<text x="472.0" y="572.0500000000001" font-size="7.0" fill="#2e2e2e" stroke="#2e2e2e" stroke-width="0.06" textLength="28.4" lengthAdjust="spacingAndGlyphs">KO+PGD</text>
<line x1="454.3" y1="575.4" x2="454.3" y2="634.3" stroke="#231f20" stroke-width="1.0"/>
<line x1="453.85" y1="633.9" x2="492.1" y2="633.9" stroke="#231f20" stroke-width="1.0"/>
<line x1="454.3" y1="633.9" x2="454.3" y2="636.5" stroke="#231f20" stroke-width="0.7"/>
<text x="453.7" y="645.5" font-size="6.8" text-anchor="middle" fill="#231f20" stroke="#231f20" stroke-width="0.12" textLength="9.4" lengthAdjust="spacingAndGlyphs">0.0</text>
<line x1="466.2" y1="633.9" x2="466.2" y2="636.5" stroke="#231f20" stroke-width="0.7"/>
<text x="465.7" y="645.5" font-size="6.8" text-anchor="middle" fill="#231f20" stroke="#231f20" stroke-width="0.12" textLength="9.4" lengthAdjust="spacingAndGlyphs">0.5</text>
<line x1="478.1" y1="633.9" x2="478.1" y2="636.5" stroke="#231f20" stroke-width="0.7"/>
<text x="477.7" y="645.5" font-size="6.8" text-anchor="middle" fill="#231f20" stroke="#231f20" stroke-width="0.12" textLength="9.4" lengthAdjust="spacingAndGlyphs">1.0</text>
<line x1="490.0" y1="633.9" x2="490.0" y2="636.5" stroke="#231f20" stroke-width="0.7"/>
<text x="489.7" y="645.5" font-size="6.8" text-anchor="middle" fill="#231f20" stroke="#231f20" stroke-width="0.12" textLength="9.4" lengthAdjust="spacingAndGlyphs">1.5</text>
<text x="448.0" y="583.6999999999999" font-size="6.6" text-anchor="end" fill="#2e2e2e" stroke="#2e2e2e" stroke-width="0.04">Ribulose 5-phosphate</text>
<line x1="450.8" y1="581.4" x2="454.3" y2="581.4" stroke="#231f20" stroke-width="0.7"/>
<rect x="454.30" y="576.70" width="24.51" height="1.80" fill="#1b4a8a"/>
<rect x="454.30" y="579.25" width="25.94" height="1.80" fill="#f39a1e"/>
<rect x="454.30" y="581.80" width="8.33" height="1.80" fill="#c8102e"/>
<rect x="454.30" y="584.35" width="26.42" height="1.80" fill="#9a8fd0"/>
<path d="M483.2,577.2 Q484.4,577.2 484.4,578.8000000000001 L484.4,580.6 Q484.4,581.4 485.4,581.4 Q484.4,581.4 484.4,582.1999999999999 L484.4,584.0 Q484.4,585.6 483.2,585.6" stroke="#444" stroke-width="0.5" fill="none"/>
<text x="490.5" y="582.7792" font-size="6.6" text-anchor="middle" fill="#333" stroke="#333" stroke-width="0.12" textLength="7.8" lengthAdjust="spacingAndGlyphs">***</text>
<text x="490.5" y="586.4792" font-size="6.6" text-anchor="middle" fill="#333" stroke="#333" stroke-width="0.12" textLength="7.8" lengthAdjust="spacingAndGlyphs">***</text>
<text x="448.0" y="595.5999999999999" font-size="6.6" text-anchor="end" fill="#2e2e2e" stroke="#2e2e2e" stroke-width="0.04">Ribose 5-phosphate</text>
<line x1="450.8" y1="593.3" x2="454.3" y2="593.3" stroke="#231f20" stroke-width="0.7"/>
<rect x="454.30" y="588.60" width="24.51" height="1.80" fill="#1b4a8a"/>
<rect x="454.30" y="591.15" width="25.47" height="1.80" fill="#f39a1e"/>
<rect x="454.30" y="593.70" width="10.47" height="1.80" fill="#c8102e"/>
<rect x="454.30" y="596.25" width="26.42" height="1.80" fill="#9a8fd0"/>
<path d="M483.2,589.1 Q484.4,589.1 484.4,590.7 L484.4,592.5 Q484.4,593.3 485.4,593.3 Q484.4,593.3 484.4,594.0999999999999 L484.4,595.9 Q484.4,597.5 483.2,597.5" stroke="#444" stroke-width="0.5" fill="none"/>
<text x="490.5" y="594.6791999999999" font-size="6.6" text-anchor="middle" fill="#333" stroke="#333" stroke-width="0.12" textLength="7.8" lengthAdjust="spacingAndGlyphs">***</text>
<text x="490.5" y="598.3792" font-size="6.6" text-anchor="middle" fill="#333" stroke="#333" stroke-width="0.12" textLength="7.8" lengthAdjust="spacingAndGlyphs">***</text>
<text x="448.0" y="607.4999999999999" font-size="6.6" text-anchor="end" fill="#2e2e2e" stroke="#2e2e2e" stroke-width="0.04">Xylulose 5-phosphate</text>
<line x1="450.8" y1="605.1999999999999" x2="454.3" y2="605.1999999999999" stroke="#231f20" stroke-width="0.7"/>
<rect x="454.30" y="600.50" width="24.99" height="1.80" fill="#1b4a8a"/>
<rect x="454.30" y="603.05" width="25.47" height="1.80" fill="#f39a1e"/>
<rect x="454.30" y="605.60" width="10.23" height="1.80" fill="#c8102e"/>
<rect x="454.30" y="608.15" width="24.51" height="1.80" fill="#9a8fd0"/>
<path d="M483.2,601.0 Q484.4,601.0 484.4,602.6 L484.4,604.4 Q484.4,605.1999999999999 485.4,605.1999999999999 Q484.4,605.1999999999999 484.4,605.9999999999999 L484.4,607.8 Q484.4,609.4 483.2,609.4" stroke="#444" stroke-width="0.5" fill="none"/>
<text x="490.5" y="606.5791999999999" font-size="6.6" text-anchor="middle" fill="#333" stroke="#333" stroke-width="0.12" textLength="7.8" lengthAdjust="spacingAndGlyphs">***</text>
<text x="490.5" y="610.2792" font-size="6.6" text-anchor="middle" fill="#333" stroke="#333" stroke-width="0.12" textLength="7.8" lengthAdjust="spacingAndGlyphs">***</text>
<text x="448.0" y="619.4" font-size="6.6" text-anchor="end" fill="#2e2e2e" stroke="#2e2e2e" stroke-width="0.04">Sedoheptulose 7-phosphate</text>
<line x1="450.8" y1="617.1" x2="454.3" y2="617.1" stroke="#231f20" stroke-width="0.7"/>
<rect x="454.30" y="612.40" width="25.47" height="1.80" fill="#1b4a8a"/>
<rect x="454.30" y="614.95" width="27.13" height="1.80" fill="#f39a1e"/>
<rect x="454.30" y="617.50" width="15.47" height="1.80" fill="#c8102e"/>
<rect x="454.30" y="620.05" width="24.51" height="1.80" fill="#9a8fd0"/>
<path d="M487.6,612.9000000000001 Q488.8,612.9000000000001 488.8,614.5000000000001 L488.8,616.3000000000001 Q488.8,617.1 489.8,617.1 Q488.8,617.1 488.8,617.9 L488.8,619.7 Q488.8,621.3000000000001 487.6,621.3000000000001" stroke="#444" stroke-width="0.5" fill="none"/>
<text x="494.5" y="618.4792" font-size="6.6" text-anchor="middle" fill="#333" stroke="#333" stroke-width="0.12" textLength="7.8" lengthAdjust="spacingAndGlyphs">***</text>
<text x="494.5" y="622.1792" font-size="6.6" text-anchor="middle" fill="#333" stroke="#333" stroke-width="0.12" textLength="7.8" lengthAdjust="spacingAndGlyphs">***</text>
<text x="448.0" y="631.3" font-size="6.6" text-anchor="end" fill="#2e2e2e" stroke="#2e2e2e" stroke-width="0.04">Erythrose 4-phosphate</text>
<line x1="450.8" y1="629.0" x2="454.3" y2="629.0" stroke="#231f20" stroke-width="0.7"/>
<rect x="454.30" y="624.30" width="24.51" height="1.80" fill="#1b4a8a"/>
<rect x="454.30" y="626.85" width="26.66" height="1.80" fill="#f39a1e"/>
<rect x="454.30" y="629.40" width="10.95" height="1.80" fill="#c8102e"/>
<rect x="454.30" y="631.95" width="22.37" height="1.80" fill="#9a8fd0"/>
<path d="M484.2,624.8000000000001 Q485.4,624.8000000000001 485.4,626.4000000000001 L485.4,628.2 Q485.4,629.0 486.4,629.0 Q485.4,629.0 485.4,629.8 L485.4,631.6 Q485.4,633.2 484.2,633.2" stroke="#444" stroke-width="0.5" fill="none"/>
<text x="491.5" y="630.3792" font-size="6.6" text-anchor="middle" fill="#333" stroke="#333" stroke-width="0.12" textLength="7.8" lengthAdjust="spacingAndGlyphs">***</text>
<text x="491.5" y="634.0792" font-size="6.6" text-anchor="middle" fill="#333" stroke="#333" stroke-width="0.12" textLength="7.8" lengthAdjust="spacingAndGlyphs">***</text>
<text x="473.8" y="655.5" font-size="9.0" text-anchor="middle" fill="#231f20" stroke="#231f20" stroke-width="0.12" textLength="79.0" lengthAdjust="spacingAndGlyphs">Relative metabolite levels</text>
<text x="474.1" y="666.2" font-size="9.0" text-anchor="middle" fill="#231f20" stroke="#231f20" stroke-width="0.12" textLength="82.2" lengthAdjust="spacingAndGlyphs">(normalized to WT+vector)</text>
</svg>
</body></html>
